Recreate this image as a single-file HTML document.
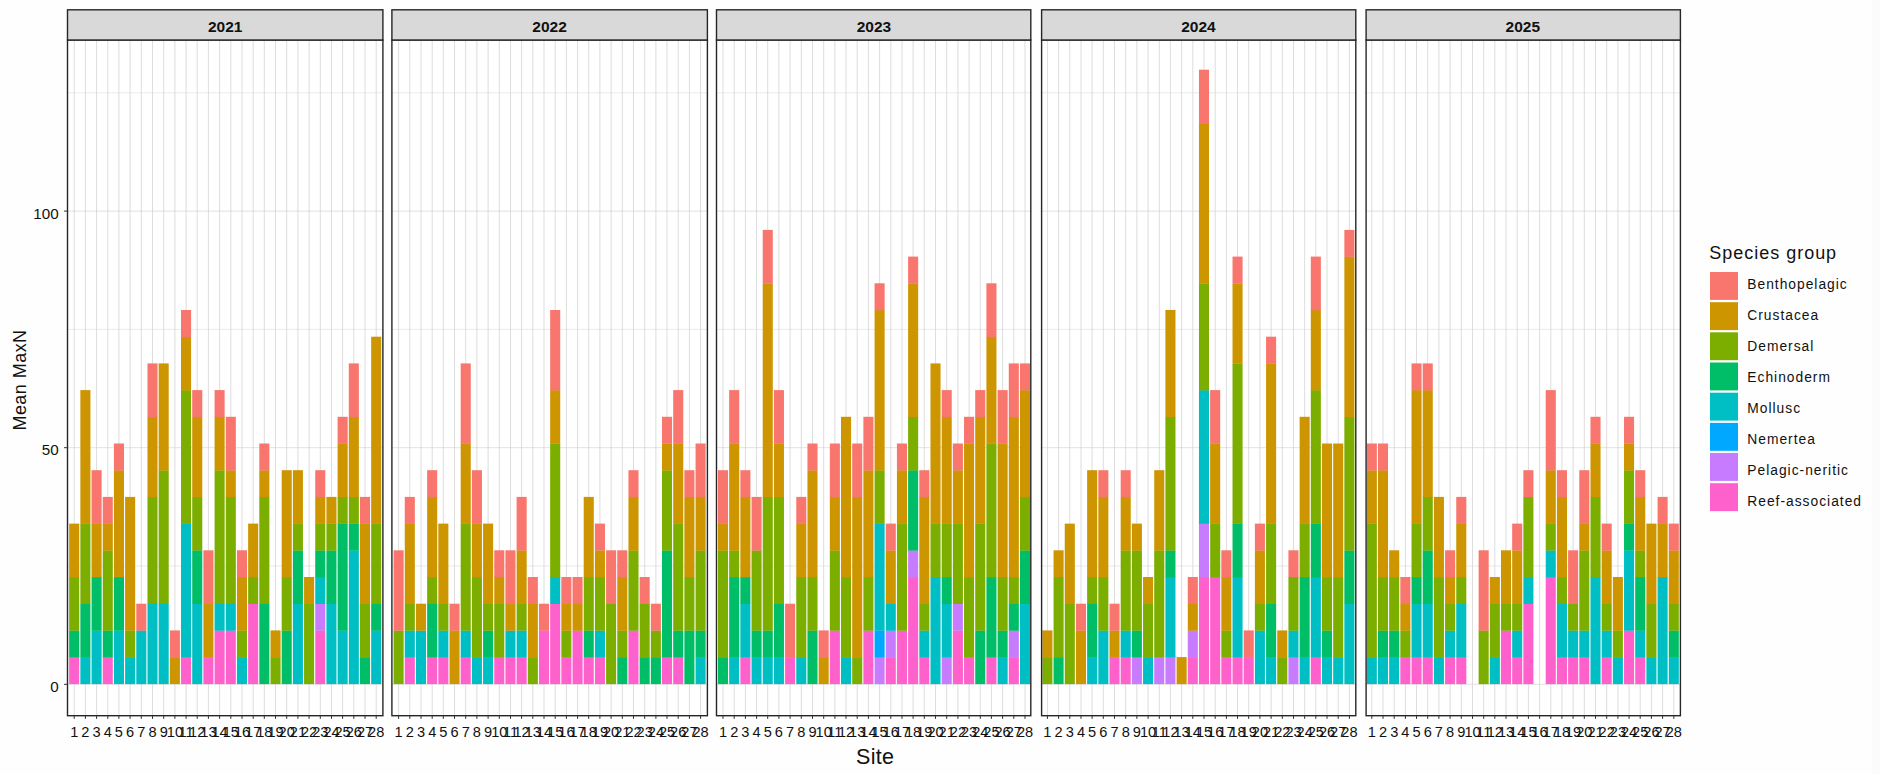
<!DOCTYPE html><html><head><meta charset="utf-8"><title>Mean MaxN by Site</title>
<style>html,body{margin:0;padding:0;background:#fefefe;}body{width:1880px;height:774px;overflow:hidden;font-family:"Liberation Sans",sans-serif;}svg{display:block}text{font-family:"Liberation Sans",sans-serif;fill:#111}</style></head><body>
<svg width="1880" height="774" viewBox="0 0 1880 774">
<rect x="0" y="0" width="1880" height="774" fill="#fefefe"/>
<rect x="1872" y="0" width="8" height="774" fill="#fcfbfc"/>
<g>
<rect x="67.5" y="40.0" width="315.4" height="675.7" fill="#ffffff"/>
<line x1="67.5" x2="382.9" y1="566.0" y2="566.0" stroke="#dadada" stroke-width="0.6"/>
<line x1="67.5" x2="382.9" y1="329.4" y2="329.4" stroke="#dadada" stroke-width="0.6"/>
<line x1="67.5" x2="382.9" y1="92.8" y2="92.8" stroke="#dadada" stroke-width="0.6"/>
<line x1="67.5" x2="382.9" y1="684.3" y2="684.3" stroke="#dadada" stroke-width="0.8"/>
<line x1="67.5" x2="382.9" y1="447.7" y2="447.7" stroke="#dadada" stroke-width="0.8"/>
<line x1="67.5" x2="382.9" y1="211.1" y2="211.1" stroke="#dadada" stroke-width="0.8"/>
<line x1="74.2" x2="74.2" y1="40.0" y2="715.7" stroke="#d2d2d2" stroke-width="0.75"/>
<line x1="85.4" x2="85.4" y1="40.0" y2="715.7" stroke="#d2d2d2" stroke-width="0.75"/>
<line x1="96.6" x2="96.6" y1="40.0" y2="715.7" stroke="#d2d2d2" stroke-width="0.75"/>
<line x1="107.8" x2="107.8" y1="40.0" y2="715.7" stroke="#d2d2d2" stroke-width="0.75"/>
<line x1="118.9" x2="118.9" y1="40.0" y2="715.7" stroke="#d2d2d2" stroke-width="0.75"/>
<line x1="130.1" x2="130.1" y1="40.0" y2="715.7" stroke="#d2d2d2" stroke-width="0.75"/>
<line x1="141.3" x2="141.3" y1="40.0" y2="715.7" stroke="#d2d2d2" stroke-width="0.75"/>
<line x1="152.5" x2="152.5" y1="40.0" y2="715.7" stroke="#d2d2d2" stroke-width="0.75"/>
<line x1="163.7" x2="163.7" y1="40.0" y2="715.7" stroke="#d2d2d2" stroke-width="0.75"/>
<line x1="174.9" x2="174.9" y1="40.0" y2="715.7" stroke="#d2d2d2" stroke-width="0.75"/>
<line x1="186.1" x2="186.1" y1="40.0" y2="715.7" stroke="#d2d2d2" stroke-width="0.75"/>
<line x1="197.2" x2="197.2" y1="40.0" y2="715.7" stroke="#d2d2d2" stroke-width="0.75"/>
<line x1="208.4" x2="208.4" y1="40.0" y2="715.7" stroke="#d2d2d2" stroke-width="0.75"/>
<line x1="219.6" x2="219.6" y1="40.0" y2="715.7" stroke="#d2d2d2" stroke-width="0.75"/>
<line x1="230.8" x2="230.8" y1="40.0" y2="715.7" stroke="#d2d2d2" stroke-width="0.75"/>
<line x1="242.0" x2="242.0" y1="40.0" y2="715.7" stroke="#d2d2d2" stroke-width="0.75"/>
<line x1="253.2" x2="253.2" y1="40.0" y2="715.7" stroke="#d2d2d2" stroke-width="0.75"/>
<line x1="264.3" x2="264.3" y1="40.0" y2="715.7" stroke="#d2d2d2" stroke-width="0.75"/>
<line x1="275.5" x2="275.5" y1="40.0" y2="715.7" stroke="#d2d2d2" stroke-width="0.75"/>
<line x1="286.7" x2="286.7" y1="40.0" y2="715.7" stroke="#d2d2d2" stroke-width="0.75"/>
<line x1="297.9" x2="297.9" y1="40.0" y2="715.7" stroke="#d2d2d2" stroke-width="0.75"/>
<line x1="309.1" x2="309.1" y1="40.0" y2="715.7" stroke="#d2d2d2" stroke-width="0.75"/>
<line x1="320.3" x2="320.3" y1="40.0" y2="715.7" stroke="#d2d2d2" stroke-width="0.75"/>
<line x1="331.5" x2="331.5" y1="40.0" y2="715.7" stroke="#d2d2d2" stroke-width="0.75"/>
<line x1="342.6" x2="342.6" y1="40.0" y2="715.7" stroke="#d2d2d2" stroke-width="0.75"/>
<line x1="353.8" x2="353.8" y1="40.0" y2="715.7" stroke="#d2d2d2" stroke-width="0.75"/>
<line x1="365.0" x2="365.0" y1="40.0" y2="715.7" stroke="#d2d2d2" stroke-width="0.75"/>
<line x1="376.2" x2="376.2" y1="40.0" y2="715.7" stroke="#d2d2d2" stroke-width="0.75"/>
<rect x="69.18" y="657.10" width="10.07" height="27.00" fill="#FF61CC"/>
<rect x="69.18" y="630.40" width="10.07" height="27.00" fill="#00BE67"/>
<rect x="69.18" y="577.00" width="10.07" height="53.70" fill="#7CAE00"/>
<rect x="69.18" y="523.60" width="10.07" height="53.70" fill="#CD9600"/>
<rect x="80.36" y="657.10" width="10.07" height="27.00" fill="#00BFC4"/>
<rect x="80.36" y="603.70" width="10.07" height="53.70" fill="#00BE67"/>
<rect x="80.36" y="523.60" width="10.07" height="80.40" fill="#7CAE00"/>
<rect x="80.36" y="390.10" width="10.07" height="133.80" fill="#CD9600"/>
<rect x="91.55" y="630.40" width="10.07" height="53.70" fill="#00BFC4"/>
<rect x="91.55" y="577.00" width="10.07" height="53.70" fill="#00BE67"/>
<rect x="91.55" y="523.60" width="10.07" height="53.70" fill="#CD9600"/>
<rect x="91.55" y="470.20" width="10.07" height="53.70" fill="#F8766D"/>
<rect x="102.73" y="657.10" width="10.07" height="27.00" fill="#FF61CC"/>
<rect x="102.73" y="630.40" width="10.07" height="27.00" fill="#00BE67"/>
<rect x="102.73" y="550.30" width="10.07" height="80.40" fill="#7CAE00"/>
<rect x="102.73" y="523.60" width="10.07" height="27.00" fill="#CD9600"/>
<rect x="102.73" y="496.90" width="10.07" height="27.00" fill="#F8766D"/>
<rect x="113.92" y="630.40" width="10.07" height="53.70" fill="#00BFC4"/>
<rect x="113.92" y="577.00" width="10.07" height="53.70" fill="#00BE67"/>
<rect x="113.92" y="470.20" width="10.07" height="107.10" fill="#CD9600"/>
<rect x="113.92" y="443.50" width="10.07" height="27.00" fill="#F8766D"/>
<rect x="125.10" y="657.10" width="10.07" height="27.00" fill="#00BFC4"/>
<rect x="125.10" y="630.40" width="10.07" height="27.00" fill="#7CAE00"/>
<rect x="125.10" y="496.90" width="10.07" height="133.80" fill="#CD9600"/>
<rect x="136.28" y="630.40" width="10.07" height="53.70" fill="#00BFC4"/>
<rect x="136.28" y="603.70" width="10.07" height="27.00" fill="#F8766D"/>
<rect x="147.47" y="603.70" width="10.07" height="80.40" fill="#00BFC4"/>
<rect x="147.47" y="496.90" width="10.07" height="107.10" fill="#7CAE00"/>
<rect x="147.47" y="416.80" width="10.07" height="80.40" fill="#CD9600"/>
<rect x="147.47" y="363.40" width="10.07" height="53.70" fill="#F8766D"/>
<rect x="158.65" y="603.70" width="10.07" height="80.40" fill="#00BFC4"/>
<rect x="158.65" y="470.20" width="10.07" height="133.80" fill="#7CAE00"/>
<rect x="158.65" y="363.40" width="10.07" height="107.10" fill="#CD9600"/>
<rect x="169.84" y="657.10" width="10.07" height="27.00" fill="#CD9600"/>
<rect x="169.84" y="630.40" width="10.07" height="27.00" fill="#F8766D"/>
<rect x="181.02" y="657.10" width="10.07" height="27.00" fill="#FF61CC"/>
<rect x="181.02" y="523.60" width="10.07" height="133.80" fill="#00BFC4"/>
<rect x="181.02" y="390.10" width="10.07" height="133.80" fill="#7CAE00"/>
<rect x="181.02" y="336.70" width="10.07" height="53.70" fill="#CD9600"/>
<rect x="181.02" y="310.00" width="10.07" height="27.00" fill="#F8766D"/>
<rect x="192.21" y="603.70" width="10.07" height="80.40" fill="#00BFC4"/>
<rect x="192.21" y="550.30" width="10.07" height="53.70" fill="#00BE67"/>
<rect x="192.21" y="496.90" width="10.07" height="53.70" fill="#7CAE00"/>
<rect x="192.21" y="416.80" width="10.07" height="80.40" fill="#CD9600"/>
<rect x="192.21" y="390.10" width="10.07" height="27.00" fill="#F8766D"/>
<rect x="203.39" y="657.10" width="10.07" height="27.00" fill="#FF61CC"/>
<rect x="203.39" y="603.70" width="10.07" height="53.70" fill="#CD9600"/>
<rect x="203.39" y="550.30" width="10.07" height="53.70" fill="#F8766D"/>
<rect x="214.57" y="630.40" width="10.07" height="53.70" fill="#FF61CC"/>
<rect x="214.57" y="603.70" width="10.07" height="27.00" fill="#00BFC4"/>
<rect x="214.57" y="470.20" width="10.07" height="133.80" fill="#7CAE00"/>
<rect x="214.57" y="416.80" width="10.07" height="53.70" fill="#CD9600"/>
<rect x="214.57" y="390.10" width="10.07" height="27.00" fill="#F8766D"/>
<rect x="225.76" y="630.40" width="10.07" height="53.70" fill="#FF61CC"/>
<rect x="225.76" y="603.70" width="10.07" height="27.00" fill="#00BFC4"/>
<rect x="225.76" y="496.90" width="10.07" height="107.10" fill="#7CAE00"/>
<rect x="225.76" y="470.20" width="10.07" height="27.00" fill="#CD9600"/>
<rect x="225.76" y="416.80" width="10.07" height="53.70" fill="#F8766D"/>
<rect x="236.94" y="657.10" width="10.07" height="27.00" fill="#00BFC4"/>
<rect x="236.94" y="630.40" width="10.07" height="27.00" fill="#7CAE00"/>
<rect x="236.94" y="577.00" width="10.07" height="53.70" fill="#CD9600"/>
<rect x="236.94" y="550.30" width="10.07" height="27.00" fill="#F8766D"/>
<rect x="248.13" y="603.70" width="10.07" height="80.40" fill="#FF61CC"/>
<rect x="248.13" y="577.00" width="10.07" height="27.00" fill="#7CAE00"/>
<rect x="248.13" y="523.60" width="10.07" height="53.70" fill="#CD9600"/>
<rect x="259.31" y="603.70" width="10.07" height="80.40" fill="#00BE67"/>
<rect x="259.31" y="496.90" width="10.07" height="107.10" fill="#7CAE00"/>
<rect x="259.31" y="470.20" width="10.07" height="27.00" fill="#CD9600"/>
<rect x="259.31" y="443.50" width="10.07" height="27.00" fill="#F8766D"/>
<rect x="270.50" y="657.10" width="10.07" height="27.00" fill="#7CAE00"/>
<rect x="270.50" y="630.40" width="10.07" height="27.00" fill="#CD9600"/>
<rect x="281.68" y="630.40" width="10.07" height="53.70" fill="#00BE67"/>
<rect x="281.68" y="577.00" width="10.07" height="53.70" fill="#7CAE00"/>
<rect x="281.68" y="470.20" width="10.07" height="107.10" fill="#CD9600"/>
<rect x="292.87" y="603.70" width="10.07" height="80.40" fill="#00BFC4"/>
<rect x="292.87" y="550.30" width="10.07" height="53.70" fill="#00BE67"/>
<rect x="292.87" y="523.60" width="10.07" height="27.00" fill="#7CAE00"/>
<rect x="292.87" y="470.20" width="10.07" height="53.70" fill="#CD9600"/>
<rect x="304.05" y="603.70" width="10.07" height="80.40" fill="#7CAE00"/>
<rect x="304.05" y="577.00" width="10.07" height="27.00" fill="#CD9600"/>
<rect x="315.23" y="630.40" width="10.07" height="53.70" fill="#FF61CC"/>
<rect x="315.23" y="603.70" width="10.07" height="27.00" fill="#C77CFF"/>
<rect x="315.23" y="577.00" width="10.07" height="27.00" fill="#00BFC4"/>
<rect x="315.23" y="550.30" width="10.07" height="27.00" fill="#00BE67"/>
<rect x="315.23" y="523.60" width="10.07" height="27.00" fill="#7CAE00"/>
<rect x="315.23" y="496.90" width="10.07" height="27.00" fill="#CD9600"/>
<rect x="315.23" y="470.20" width="10.07" height="27.00" fill="#F8766D"/>
<rect x="326.42" y="603.70" width="10.07" height="80.40" fill="#00BFC4"/>
<rect x="326.42" y="550.30" width="10.07" height="53.70" fill="#00BE67"/>
<rect x="326.42" y="523.60" width="10.07" height="27.00" fill="#7CAE00"/>
<rect x="326.42" y="496.90" width="10.07" height="27.00" fill="#CD9600"/>
<rect x="337.60" y="630.40" width="10.07" height="53.70" fill="#00BFC4"/>
<rect x="337.60" y="523.60" width="10.07" height="107.10" fill="#00BE67"/>
<rect x="337.60" y="496.90" width="10.07" height="27.00" fill="#7CAE00"/>
<rect x="337.60" y="443.50" width="10.07" height="53.70" fill="#CD9600"/>
<rect x="337.60" y="416.80" width="10.07" height="27.00" fill="#F8766D"/>
<rect x="348.79" y="550.30" width="10.07" height="133.80" fill="#00BFC4"/>
<rect x="348.79" y="523.60" width="10.07" height="27.00" fill="#00BE67"/>
<rect x="348.79" y="496.90" width="10.07" height="27.00" fill="#7CAE00"/>
<rect x="348.79" y="416.80" width="10.07" height="80.40" fill="#CD9600"/>
<rect x="348.79" y="363.40" width="10.07" height="53.70" fill="#F8766D"/>
<rect x="359.97" y="657.10" width="10.07" height="27.00" fill="#00BE67"/>
<rect x="359.97" y="603.70" width="10.07" height="53.70" fill="#7CAE00"/>
<rect x="359.97" y="523.60" width="10.07" height="80.40" fill="#CD9600"/>
<rect x="359.97" y="496.90" width="10.07" height="27.00" fill="#F8766D"/>
<rect x="371.16" y="630.40" width="10.07" height="53.70" fill="#00BFC4"/>
<rect x="371.16" y="603.70" width="10.07" height="27.00" fill="#00BE67"/>
<rect x="371.16" y="523.60" width="10.07" height="80.40" fill="#7CAE00"/>
<rect x="371.16" y="336.70" width="10.07" height="187.20" fill="#CD9600"/>
<rect x="67.5" y="40.0" width="315.4" height="675.7" fill="none" stroke="#262626" stroke-width="1.4"/>
<rect x="67.5" y="9.8" width="315.4" height="30.2" fill="#d9d9d9" stroke="#262626" stroke-width="1.4"/>
<text x="225.2" y="32.4" font-size="15.5" font-weight="bold" text-anchor="middle">2021</text>
<line x1="74.2" x2="74.2" y1="715.7" y2="718.9000000000001" stroke="#333" stroke-width="1"/>
<text x="74.2" y="736.8" font-size="14.6" text-anchor="middle" fill="#222">1</text>
<line x1="85.4" x2="85.4" y1="715.7" y2="718.9000000000001" stroke="#333" stroke-width="1"/>
<text x="85.4" y="736.8" font-size="14.6" text-anchor="middle" fill="#222">2</text>
<line x1="96.6" x2="96.6" y1="715.7" y2="718.9000000000001" stroke="#333" stroke-width="1"/>
<text x="96.6" y="736.8" font-size="14.6" text-anchor="middle" fill="#222">3</text>
<line x1="107.8" x2="107.8" y1="715.7" y2="718.9000000000001" stroke="#333" stroke-width="1"/>
<text x="107.8" y="736.8" font-size="14.6" text-anchor="middle" fill="#222">4</text>
<line x1="118.9" x2="118.9" y1="715.7" y2="718.9000000000001" stroke="#333" stroke-width="1"/>
<text x="118.9" y="736.8" font-size="14.6" text-anchor="middle" fill="#222">5</text>
<line x1="130.1" x2="130.1" y1="715.7" y2="718.9000000000001" stroke="#333" stroke-width="1"/>
<text x="130.1" y="736.8" font-size="14.6" text-anchor="middle" fill="#222">6</text>
<line x1="141.3" x2="141.3" y1="715.7" y2="718.9000000000001" stroke="#333" stroke-width="1"/>
<text x="141.3" y="736.8" font-size="14.6" text-anchor="middle" fill="#222">7</text>
<line x1="152.5" x2="152.5" y1="715.7" y2="718.9000000000001" stroke="#333" stroke-width="1"/>
<text x="152.5" y="736.8" font-size="14.6" text-anchor="middle" fill="#222">8</text>
<line x1="163.7" x2="163.7" y1="715.7" y2="718.9000000000001" stroke="#333" stroke-width="1"/>
<text x="163.7" y="736.8" font-size="14.6" text-anchor="middle" fill="#222">9</text>
<line x1="174.9" x2="174.9" y1="715.7" y2="718.9000000000001" stroke="#333" stroke-width="1"/>
<text x="174.9" y="736.8" font-size="14.6" text-anchor="middle" fill="#222">10</text>
<line x1="186.1" x2="186.1" y1="715.7" y2="718.9000000000001" stroke="#333" stroke-width="1"/>
<text x="186.1" y="736.8" font-size="14.6" text-anchor="middle" fill="#222">11</text>
<line x1="197.2" x2="197.2" y1="715.7" y2="718.9000000000001" stroke="#333" stroke-width="1"/>
<text x="197.2" y="736.8" font-size="14.6" text-anchor="middle" fill="#222">12</text>
<line x1="208.4" x2="208.4" y1="715.7" y2="718.9000000000001" stroke="#333" stroke-width="1"/>
<text x="208.4" y="736.8" font-size="14.6" text-anchor="middle" fill="#222">13</text>
<line x1="219.6" x2="219.6" y1="715.7" y2="718.9000000000001" stroke="#333" stroke-width="1"/>
<text x="219.6" y="736.8" font-size="14.6" text-anchor="middle" fill="#222">14</text>
<line x1="230.8" x2="230.8" y1="715.7" y2="718.9000000000001" stroke="#333" stroke-width="1"/>
<text x="230.8" y="736.8" font-size="14.6" text-anchor="middle" fill="#222">15</text>
<line x1="242.0" x2="242.0" y1="715.7" y2="718.9000000000001" stroke="#333" stroke-width="1"/>
<text x="242.0" y="736.8" font-size="14.6" text-anchor="middle" fill="#222">16</text>
<line x1="253.2" x2="253.2" y1="715.7" y2="718.9000000000001" stroke="#333" stroke-width="1"/>
<text x="253.2" y="736.8" font-size="14.6" text-anchor="middle" fill="#222">17</text>
<line x1="264.3" x2="264.3" y1="715.7" y2="718.9000000000001" stroke="#333" stroke-width="1"/>
<text x="264.3" y="736.8" font-size="14.6" text-anchor="middle" fill="#222">18</text>
<line x1="275.5" x2="275.5" y1="715.7" y2="718.9000000000001" stroke="#333" stroke-width="1"/>
<text x="275.5" y="736.8" font-size="14.6" text-anchor="middle" fill="#222">19</text>
<line x1="286.7" x2="286.7" y1="715.7" y2="718.9000000000001" stroke="#333" stroke-width="1"/>
<text x="286.7" y="736.8" font-size="14.6" text-anchor="middle" fill="#222">20</text>
<line x1="297.9" x2="297.9" y1="715.7" y2="718.9000000000001" stroke="#333" stroke-width="1"/>
<text x="297.9" y="736.8" font-size="14.6" text-anchor="middle" fill="#222">21</text>
<line x1="309.1" x2="309.1" y1="715.7" y2="718.9000000000001" stroke="#333" stroke-width="1"/>
<text x="309.1" y="736.8" font-size="14.6" text-anchor="middle" fill="#222">22</text>
<line x1="320.3" x2="320.3" y1="715.7" y2="718.9000000000001" stroke="#333" stroke-width="1"/>
<text x="320.3" y="736.8" font-size="14.6" text-anchor="middle" fill="#222">23</text>
<line x1="331.5" x2="331.5" y1="715.7" y2="718.9000000000001" stroke="#333" stroke-width="1"/>
<text x="331.5" y="736.8" font-size="14.6" text-anchor="middle" fill="#222">24</text>
<line x1="342.6" x2="342.6" y1="715.7" y2="718.9000000000001" stroke="#333" stroke-width="1"/>
<text x="342.6" y="736.8" font-size="14.6" text-anchor="middle" fill="#222">25</text>
<line x1="353.8" x2="353.8" y1="715.7" y2="718.9000000000001" stroke="#333" stroke-width="1"/>
<text x="353.8" y="736.8" font-size="14.6" text-anchor="middle" fill="#222">26</text>
<line x1="365.0" x2="365.0" y1="715.7" y2="718.9000000000001" stroke="#333" stroke-width="1"/>
<text x="365.0" y="736.8" font-size="14.6" text-anchor="middle" fill="#222">27</text>
<line x1="376.2" x2="376.2" y1="715.7" y2="718.9000000000001" stroke="#333" stroke-width="1"/>
<text x="376.2" y="736.8" font-size="14.6" text-anchor="middle" fill="#222">28</text>
</g>
<g>
<rect x="391.9" y="40.0" width="315.5" height="675.7" fill="#ffffff"/>
<line x1="391.9" x2="707.3" y1="566.0" y2="566.0" stroke="#dadada" stroke-width="0.6"/>
<line x1="391.9" x2="707.3" y1="329.4" y2="329.4" stroke="#dadada" stroke-width="0.6"/>
<line x1="391.9" x2="707.3" y1="92.8" y2="92.8" stroke="#dadada" stroke-width="0.6"/>
<line x1="391.9" x2="707.3" y1="684.3" y2="684.3" stroke="#dadada" stroke-width="0.8"/>
<line x1="391.9" x2="707.3" y1="447.7" y2="447.7" stroke="#dadada" stroke-width="0.8"/>
<line x1="391.9" x2="707.3" y1="211.1" y2="211.1" stroke="#dadada" stroke-width="0.8"/>
<line x1="398.6" x2="398.6" y1="40.0" y2="715.7" stroke="#d2d2d2" stroke-width="0.75"/>
<line x1="409.8" x2="409.8" y1="40.0" y2="715.7" stroke="#d2d2d2" stroke-width="0.75"/>
<line x1="421.0" x2="421.0" y1="40.0" y2="715.7" stroke="#d2d2d2" stroke-width="0.75"/>
<line x1="432.2" x2="432.2" y1="40.0" y2="715.7" stroke="#d2d2d2" stroke-width="0.75"/>
<line x1="443.3" x2="443.3" y1="40.0" y2="715.7" stroke="#d2d2d2" stroke-width="0.75"/>
<line x1="454.5" x2="454.5" y1="40.0" y2="715.7" stroke="#d2d2d2" stroke-width="0.75"/>
<line x1="465.7" x2="465.7" y1="40.0" y2="715.7" stroke="#d2d2d2" stroke-width="0.75"/>
<line x1="476.9" x2="476.9" y1="40.0" y2="715.7" stroke="#d2d2d2" stroke-width="0.75"/>
<line x1="488.1" x2="488.1" y1="40.0" y2="715.7" stroke="#d2d2d2" stroke-width="0.75"/>
<line x1="499.3" x2="499.3" y1="40.0" y2="715.7" stroke="#d2d2d2" stroke-width="0.75"/>
<line x1="510.5" x2="510.5" y1="40.0" y2="715.7" stroke="#d2d2d2" stroke-width="0.75"/>
<line x1="521.6" x2="521.6" y1="40.0" y2="715.7" stroke="#d2d2d2" stroke-width="0.75"/>
<line x1="532.8" x2="532.8" y1="40.0" y2="715.7" stroke="#d2d2d2" stroke-width="0.75"/>
<line x1="544.0" x2="544.0" y1="40.0" y2="715.7" stroke="#d2d2d2" stroke-width="0.75"/>
<line x1="555.2" x2="555.2" y1="40.0" y2="715.7" stroke="#d2d2d2" stroke-width="0.75"/>
<line x1="566.4" x2="566.4" y1="40.0" y2="715.7" stroke="#d2d2d2" stroke-width="0.75"/>
<line x1="577.6" x2="577.6" y1="40.0" y2="715.7" stroke="#d2d2d2" stroke-width="0.75"/>
<line x1="588.7" x2="588.7" y1="40.0" y2="715.7" stroke="#d2d2d2" stroke-width="0.75"/>
<line x1="599.9" x2="599.9" y1="40.0" y2="715.7" stroke="#d2d2d2" stroke-width="0.75"/>
<line x1="611.1" x2="611.1" y1="40.0" y2="715.7" stroke="#d2d2d2" stroke-width="0.75"/>
<line x1="622.3" x2="622.3" y1="40.0" y2="715.7" stroke="#d2d2d2" stroke-width="0.75"/>
<line x1="633.5" x2="633.5" y1="40.0" y2="715.7" stroke="#d2d2d2" stroke-width="0.75"/>
<line x1="644.7" x2="644.7" y1="40.0" y2="715.7" stroke="#d2d2d2" stroke-width="0.75"/>
<line x1="655.9" x2="655.9" y1="40.0" y2="715.7" stroke="#d2d2d2" stroke-width="0.75"/>
<line x1="667.0" x2="667.0" y1="40.0" y2="715.7" stroke="#d2d2d2" stroke-width="0.75"/>
<line x1="678.2" x2="678.2" y1="40.0" y2="715.7" stroke="#d2d2d2" stroke-width="0.75"/>
<line x1="689.4" x2="689.4" y1="40.0" y2="715.7" stroke="#d2d2d2" stroke-width="0.75"/>
<line x1="700.6" x2="700.6" y1="40.0" y2="715.7" stroke="#d2d2d2" stroke-width="0.75"/>
<rect x="393.58" y="630.40" width="10.07" height="53.70" fill="#7CAE00"/>
<rect x="393.58" y="550.30" width="10.07" height="80.40" fill="#F8766D"/>
<rect x="404.76" y="657.10" width="10.07" height="27.00" fill="#FF61CC"/>
<rect x="404.76" y="630.40" width="10.07" height="27.00" fill="#00BFC4"/>
<rect x="404.76" y="603.70" width="10.07" height="27.00" fill="#7CAE00"/>
<rect x="404.76" y="523.60" width="10.07" height="80.40" fill="#CD9600"/>
<rect x="404.76" y="496.90" width="10.07" height="27.00" fill="#F8766D"/>
<rect x="415.95" y="630.40" width="10.07" height="53.70" fill="#00BFC4"/>
<rect x="415.95" y="603.70" width="10.07" height="27.00" fill="#CD9600"/>
<rect x="427.13" y="657.10" width="10.07" height="27.00" fill="#FF61CC"/>
<rect x="427.13" y="603.70" width="10.07" height="53.70" fill="#00BE67"/>
<rect x="427.13" y="577.00" width="10.07" height="27.00" fill="#7CAE00"/>
<rect x="427.13" y="496.90" width="10.07" height="80.40" fill="#CD9600"/>
<rect x="427.13" y="470.20" width="10.07" height="27.00" fill="#F8766D"/>
<rect x="438.32" y="657.10" width="10.07" height="27.00" fill="#FF61CC"/>
<rect x="438.32" y="630.40" width="10.07" height="27.00" fill="#00BFC4"/>
<rect x="438.32" y="603.70" width="10.07" height="27.00" fill="#7CAE00"/>
<rect x="438.32" y="523.60" width="10.07" height="80.40" fill="#CD9600"/>
<rect x="449.50" y="630.40" width="10.07" height="53.70" fill="#CD9600"/>
<rect x="449.50" y="603.70" width="10.07" height="27.00" fill="#F8766D"/>
<rect x="460.68" y="657.10" width="10.07" height="27.00" fill="#FF61CC"/>
<rect x="460.68" y="630.40" width="10.07" height="27.00" fill="#00BFC4"/>
<rect x="460.68" y="523.60" width="10.07" height="107.10" fill="#7CAE00"/>
<rect x="460.68" y="443.50" width="10.07" height="80.40" fill="#CD9600"/>
<rect x="460.68" y="363.40" width="10.07" height="80.40" fill="#F8766D"/>
<rect x="471.87" y="657.10" width="10.07" height="27.00" fill="#00BFC4"/>
<rect x="471.87" y="577.00" width="10.07" height="80.40" fill="#7CAE00"/>
<rect x="471.87" y="523.60" width="10.07" height="53.70" fill="#CD9600"/>
<rect x="471.87" y="470.20" width="10.07" height="53.70" fill="#F8766D"/>
<rect x="483.05" y="657.10" width="10.07" height="27.00" fill="#00BFC4"/>
<rect x="483.05" y="630.40" width="10.07" height="27.00" fill="#00BE67"/>
<rect x="483.05" y="603.70" width="10.07" height="27.00" fill="#7CAE00"/>
<rect x="483.05" y="523.60" width="10.07" height="80.40" fill="#CD9600"/>
<rect x="494.24" y="657.10" width="10.07" height="27.00" fill="#FF61CC"/>
<rect x="494.24" y="603.70" width="10.07" height="53.70" fill="#7CAE00"/>
<rect x="494.24" y="577.00" width="10.07" height="27.00" fill="#CD9600"/>
<rect x="494.24" y="550.30" width="10.07" height="27.00" fill="#F8766D"/>
<rect x="505.42" y="657.10" width="10.07" height="27.00" fill="#FF61CC"/>
<rect x="505.42" y="630.40" width="10.07" height="27.00" fill="#00BFC4"/>
<rect x="505.42" y="603.70" width="10.07" height="27.00" fill="#CD9600"/>
<rect x="505.42" y="550.30" width="10.07" height="53.70" fill="#F8766D"/>
<rect x="516.61" y="657.10" width="10.07" height="27.00" fill="#FF61CC"/>
<rect x="516.61" y="630.40" width="10.07" height="27.00" fill="#00BFC4"/>
<rect x="516.61" y="603.70" width="10.07" height="27.00" fill="#7CAE00"/>
<rect x="516.61" y="550.30" width="10.07" height="53.70" fill="#CD9600"/>
<rect x="516.61" y="496.90" width="10.07" height="53.70" fill="#F8766D"/>
<rect x="527.79" y="657.10" width="10.07" height="27.00" fill="#7CAE00"/>
<rect x="527.79" y="603.70" width="10.07" height="53.70" fill="#CD9600"/>
<rect x="527.79" y="577.00" width="10.07" height="27.00" fill="#F8766D"/>
<rect x="538.97" y="630.40" width="10.07" height="53.70" fill="#FF61CC"/>
<rect x="538.97" y="603.70" width="10.07" height="27.00" fill="#F8766D"/>
<rect x="550.16" y="603.70" width="10.07" height="80.40" fill="#FF61CC"/>
<rect x="550.16" y="577.00" width="10.07" height="27.00" fill="#00BFC4"/>
<rect x="550.16" y="443.50" width="10.07" height="133.80" fill="#7CAE00"/>
<rect x="550.16" y="390.10" width="10.07" height="53.70" fill="#CD9600"/>
<rect x="550.16" y="310.00" width="10.07" height="80.40" fill="#F8766D"/>
<rect x="561.34" y="657.10" width="10.07" height="27.00" fill="#FF61CC"/>
<rect x="561.34" y="630.40" width="10.07" height="27.00" fill="#7CAE00"/>
<rect x="561.34" y="603.70" width="10.07" height="27.00" fill="#CD9600"/>
<rect x="561.34" y="577.00" width="10.07" height="27.00" fill="#F8766D"/>
<rect x="572.53" y="630.40" width="10.07" height="53.70" fill="#FF61CC"/>
<rect x="572.53" y="603.70" width="10.07" height="27.00" fill="#CD9600"/>
<rect x="572.53" y="577.00" width="10.07" height="27.00" fill="#F8766D"/>
<rect x="583.71" y="657.10" width="10.07" height="27.00" fill="#FF61CC"/>
<rect x="583.71" y="630.40" width="10.07" height="27.00" fill="#00BE67"/>
<rect x="583.71" y="577.00" width="10.07" height="53.70" fill="#7CAE00"/>
<rect x="583.71" y="496.90" width="10.07" height="80.40" fill="#CD9600"/>
<rect x="594.90" y="657.10" width="10.07" height="27.00" fill="#FF61CC"/>
<rect x="594.90" y="630.40" width="10.07" height="27.00" fill="#00BFC4"/>
<rect x="594.90" y="577.00" width="10.07" height="53.70" fill="#7CAE00"/>
<rect x="594.90" y="550.30" width="10.07" height="27.00" fill="#CD9600"/>
<rect x="594.90" y="523.60" width="10.07" height="27.00" fill="#F8766D"/>
<rect x="606.08" y="603.70" width="10.07" height="80.40" fill="#7CAE00"/>
<rect x="606.08" y="550.30" width="10.07" height="53.70" fill="#F8766D"/>
<rect x="617.27" y="657.10" width="10.07" height="27.00" fill="#00BE67"/>
<rect x="617.27" y="630.40" width="10.07" height="27.00" fill="#7CAE00"/>
<rect x="617.27" y="577.00" width="10.07" height="53.70" fill="#CD9600"/>
<rect x="617.27" y="550.30" width="10.07" height="27.00" fill="#F8766D"/>
<rect x="628.45" y="630.40" width="10.07" height="53.70" fill="#FF61CC"/>
<rect x="628.45" y="550.30" width="10.07" height="80.40" fill="#7CAE00"/>
<rect x="628.45" y="496.90" width="10.07" height="53.70" fill="#CD9600"/>
<rect x="628.45" y="470.20" width="10.07" height="27.00" fill="#F8766D"/>
<rect x="639.63" y="657.10" width="10.07" height="27.00" fill="#00BE67"/>
<rect x="639.63" y="603.70" width="10.07" height="53.70" fill="#7CAE00"/>
<rect x="639.63" y="577.00" width="10.07" height="27.00" fill="#F8766D"/>
<rect x="650.82" y="657.10" width="10.07" height="27.00" fill="#00BE67"/>
<rect x="650.82" y="630.40" width="10.07" height="27.00" fill="#7CAE00"/>
<rect x="650.82" y="603.70" width="10.07" height="27.00" fill="#F8766D"/>
<rect x="662.00" y="657.10" width="10.07" height="27.00" fill="#FF61CC"/>
<rect x="662.00" y="550.30" width="10.07" height="107.10" fill="#00BE67"/>
<rect x="662.00" y="470.20" width="10.07" height="80.40" fill="#7CAE00"/>
<rect x="662.00" y="443.50" width="10.07" height="27.00" fill="#CD9600"/>
<rect x="662.00" y="416.80" width="10.07" height="27.00" fill="#F8766D"/>
<rect x="673.19" y="657.10" width="10.07" height="27.00" fill="#FF61CC"/>
<rect x="673.19" y="630.40" width="10.07" height="27.00" fill="#00BE67"/>
<rect x="673.19" y="523.60" width="10.07" height="107.10" fill="#7CAE00"/>
<rect x="673.19" y="443.50" width="10.07" height="80.40" fill="#CD9600"/>
<rect x="673.19" y="390.10" width="10.07" height="53.70" fill="#F8766D"/>
<rect x="684.37" y="630.40" width="10.07" height="53.70" fill="#00BE67"/>
<rect x="684.37" y="577.00" width="10.07" height="53.70" fill="#7CAE00"/>
<rect x="684.37" y="496.90" width="10.07" height="80.40" fill="#CD9600"/>
<rect x="684.37" y="470.20" width="10.07" height="27.00" fill="#F8766D"/>
<rect x="695.56" y="657.10" width="10.07" height="27.00" fill="#00BFC4"/>
<rect x="695.56" y="630.40" width="10.07" height="27.00" fill="#00BE67"/>
<rect x="695.56" y="550.30" width="10.07" height="80.40" fill="#7CAE00"/>
<rect x="695.56" y="496.90" width="10.07" height="53.70" fill="#CD9600"/>
<rect x="695.56" y="443.50" width="10.07" height="53.70" fill="#F8766D"/>
<rect x="391.9" y="40.0" width="315.5" height="675.7" fill="none" stroke="#262626" stroke-width="1.4"/>
<rect x="391.9" y="9.8" width="315.5" height="30.2" fill="#d9d9d9" stroke="#262626" stroke-width="1.4"/>
<text x="549.6" y="32.4" font-size="15.5" font-weight="bold" text-anchor="middle">2022</text>
<line x1="398.6" x2="398.6" y1="715.7" y2="718.9000000000001" stroke="#333" stroke-width="1"/>
<text x="398.6" y="736.8" font-size="14.6" text-anchor="middle" fill="#222">1</text>
<line x1="409.8" x2="409.8" y1="715.7" y2="718.9000000000001" stroke="#333" stroke-width="1"/>
<text x="409.8" y="736.8" font-size="14.6" text-anchor="middle" fill="#222">2</text>
<line x1="421.0" x2="421.0" y1="715.7" y2="718.9000000000001" stroke="#333" stroke-width="1"/>
<text x="421.0" y="736.8" font-size="14.6" text-anchor="middle" fill="#222">3</text>
<line x1="432.2" x2="432.2" y1="715.7" y2="718.9000000000001" stroke="#333" stroke-width="1"/>
<text x="432.2" y="736.8" font-size="14.6" text-anchor="middle" fill="#222">4</text>
<line x1="443.3" x2="443.3" y1="715.7" y2="718.9000000000001" stroke="#333" stroke-width="1"/>
<text x="443.3" y="736.8" font-size="14.6" text-anchor="middle" fill="#222">5</text>
<line x1="454.5" x2="454.5" y1="715.7" y2="718.9000000000001" stroke="#333" stroke-width="1"/>
<text x="454.5" y="736.8" font-size="14.6" text-anchor="middle" fill="#222">6</text>
<line x1="465.7" x2="465.7" y1="715.7" y2="718.9000000000001" stroke="#333" stroke-width="1"/>
<text x="465.7" y="736.8" font-size="14.6" text-anchor="middle" fill="#222">7</text>
<line x1="476.9" x2="476.9" y1="715.7" y2="718.9000000000001" stroke="#333" stroke-width="1"/>
<text x="476.9" y="736.8" font-size="14.6" text-anchor="middle" fill="#222">8</text>
<line x1="488.1" x2="488.1" y1="715.7" y2="718.9000000000001" stroke="#333" stroke-width="1"/>
<text x="488.1" y="736.8" font-size="14.6" text-anchor="middle" fill="#222">9</text>
<line x1="499.3" x2="499.3" y1="715.7" y2="718.9000000000001" stroke="#333" stroke-width="1"/>
<text x="499.3" y="736.8" font-size="14.6" text-anchor="middle" fill="#222">10</text>
<line x1="510.5" x2="510.5" y1="715.7" y2="718.9000000000001" stroke="#333" stroke-width="1"/>
<text x="510.5" y="736.8" font-size="14.6" text-anchor="middle" fill="#222">11</text>
<line x1="521.6" x2="521.6" y1="715.7" y2="718.9000000000001" stroke="#333" stroke-width="1"/>
<text x="521.6" y="736.8" font-size="14.6" text-anchor="middle" fill="#222">12</text>
<line x1="532.8" x2="532.8" y1="715.7" y2="718.9000000000001" stroke="#333" stroke-width="1"/>
<text x="532.8" y="736.8" font-size="14.6" text-anchor="middle" fill="#222">13</text>
<line x1="544.0" x2="544.0" y1="715.7" y2="718.9000000000001" stroke="#333" stroke-width="1"/>
<text x="544.0" y="736.8" font-size="14.6" text-anchor="middle" fill="#222">14</text>
<line x1="555.2" x2="555.2" y1="715.7" y2="718.9000000000001" stroke="#333" stroke-width="1"/>
<text x="555.2" y="736.8" font-size="14.6" text-anchor="middle" fill="#222">15</text>
<line x1="566.4" x2="566.4" y1="715.7" y2="718.9000000000001" stroke="#333" stroke-width="1"/>
<text x="566.4" y="736.8" font-size="14.6" text-anchor="middle" fill="#222">16</text>
<line x1="577.6" x2="577.6" y1="715.7" y2="718.9000000000001" stroke="#333" stroke-width="1"/>
<text x="577.6" y="736.8" font-size="14.6" text-anchor="middle" fill="#222">17</text>
<line x1="588.7" x2="588.7" y1="715.7" y2="718.9000000000001" stroke="#333" stroke-width="1"/>
<text x="588.7" y="736.8" font-size="14.6" text-anchor="middle" fill="#222">18</text>
<line x1="599.9" x2="599.9" y1="715.7" y2="718.9000000000001" stroke="#333" stroke-width="1"/>
<text x="599.9" y="736.8" font-size="14.6" text-anchor="middle" fill="#222">19</text>
<line x1="611.1" x2="611.1" y1="715.7" y2="718.9000000000001" stroke="#333" stroke-width="1"/>
<text x="611.1" y="736.8" font-size="14.6" text-anchor="middle" fill="#222">20</text>
<line x1="622.3" x2="622.3" y1="715.7" y2="718.9000000000001" stroke="#333" stroke-width="1"/>
<text x="622.3" y="736.8" font-size="14.6" text-anchor="middle" fill="#222">21</text>
<line x1="633.5" x2="633.5" y1="715.7" y2="718.9000000000001" stroke="#333" stroke-width="1"/>
<text x="633.5" y="736.8" font-size="14.6" text-anchor="middle" fill="#222">22</text>
<line x1="644.7" x2="644.7" y1="715.7" y2="718.9000000000001" stroke="#333" stroke-width="1"/>
<text x="644.7" y="736.8" font-size="14.6" text-anchor="middle" fill="#222">23</text>
<line x1="655.9" x2="655.9" y1="715.7" y2="718.9000000000001" stroke="#333" stroke-width="1"/>
<text x="655.9" y="736.8" font-size="14.6" text-anchor="middle" fill="#222">24</text>
<line x1="667.0" x2="667.0" y1="715.7" y2="718.9000000000001" stroke="#333" stroke-width="1"/>
<text x="667.0" y="736.8" font-size="14.6" text-anchor="middle" fill="#222">25</text>
<line x1="678.2" x2="678.2" y1="715.7" y2="718.9000000000001" stroke="#333" stroke-width="1"/>
<text x="678.2" y="736.8" font-size="14.6" text-anchor="middle" fill="#222">26</text>
<line x1="689.4" x2="689.4" y1="715.7" y2="718.9000000000001" stroke="#333" stroke-width="1"/>
<text x="689.4" y="736.8" font-size="14.6" text-anchor="middle" fill="#222">27</text>
<line x1="700.6" x2="700.6" y1="715.7" y2="718.9000000000001" stroke="#333" stroke-width="1"/>
<text x="700.6" y="736.8" font-size="14.6" text-anchor="middle" fill="#222">28</text>
</g>
<g>
<rect x="716.5" y="40.0" width="314.3" height="675.7" fill="#ffffff"/>
<line x1="716.3" x2="1031.7" y1="566.0" y2="566.0" stroke="#dadada" stroke-width="0.6"/>
<line x1="716.3" x2="1031.7" y1="329.4" y2="329.4" stroke="#dadada" stroke-width="0.6"/>
<line x1="716.3" x2="1031.7" y1="92.8" y2="92.8" stroke="#dadada" stroke-width="0.6"/>
<line x1="716.3" x2="1031.7" y1="684.3" y2="684.3" stroke="#dadada" stroke-width="0.8"/>
<line x1="716.3" x2="1031.7" y1="447.7" y2="447.7" stroke="#dadada" stroke-width="0.8"/>
<line x1="716.3" x2="1031.7" y1="211.1" y2="211.1" stroke="#dadada" stroke-width="0.8"/>
<line x1="723.0" x2="723.0" y1="40.0" y2="715.7" stroke="#d2d2d2" stroke-width="0.75"/>
<line x1="734.2" x2="734.2" y1="40.0" y2="715.7" stroke="#d2d2d2" stroke-width="0.75"/>
<line x1="745.4" x2="745.4" y1="40.0" y2="715.7" stroke="#d2d2d2" stroke-width="0.75"/>
<line x1="756.6" x2="756.6" y1="40.0" y2="715.7" stroke="#d2d2d2" stroke-width="0.75"/>
<line x1="767.7" x2="767.7" y1="40.0" y2="715.7" stroke="#d2d2d2" stroke-width="0.75"/>
<line x1="778.9" x2="778.9" y1="40.0" y2="715.7" stroke="#d2d2d2" stroke-width="0.75"/>
<line x1="790.1" x2="790.1" y1="40.0" y2="715.7" stroke="#d2d2d2" stroke-width="0.75"/>
<line x1="801.3" x2="801.3" y1="40.0" y2="715.7" stroke="#d2d2d2" stroke-width="0.75"/>
<line x1="812.5" x2="812.5" y1="40.0" y2="715.7" stroke="#d2d2d2" stroke-width="0.75"/>
<line x1="823.7" x2="823.7" y1="40.0" y2="715.7" stroke="#d2d2d2" stroke-width="0.75"/>
<line x1="834.9" x2="834.9" y1="40.0" y2="715.7" stroke="#d2d2d2" stroke-width="0.75"/>
<line x1="846.0" x2="846.0" y1="40.0" y2="715.7" stroke="#d2d2d2" stroke-width="0.75"/>
<line x1="857.2" x2="857.2" y1="40.0" y2="715.7" stroke="#d2d2d2" stroke-width="0.75"/>
<line x1="868.4" x2="868.4" y1="40.0" y2="715.7" stroke="#d2d2d2" stroke-width="0.75"/>
<line x1="879.6" x2="879.6" y1="40.0" y2="715.7" stroke="#d2d2d2" stroke-width="0.75"/>
<line x1="890.8" x2="890.8" y1="40.0" y2="715.7" stroke="#d2d2d2" stroke-width="0.75"/>
<line x1="902.0" x2="902.0" y1="40.0" y2="715.7" stroke="#d2d2d2" stroke-width="0.75"/>
<line x1="913.1" x2="913.1" y1="40.0" y2="715.7" stroke="#d2d2d2" stroke-width="0.75"/>
<line x1="924.3" x2="924.3" y1="40.0" y2="715.7" stroke="#d2d2d2" stroke-width="0.75"/>
<line x1="935.5" x2="935.5" y1="40.0" y2="715.7" stroke="#d2d2d2" stroke-width="0.75"/>
<line x1="946.7" x2="946.7" y1="40.0" y2="715.7" stroke="#d2d2d2" stroke-width="0.75"/>
<line x1="957.9" x2="957.9" y1="40.0" y2="715.7" stroke="#d2d2d2" stroke-width="0.75"/>
<line x1="969.1" x2="969.1" y1="40.0" y2="715.7" stroke="#d2d2d2" stroke-width="0.75"/>
<line x1="980.3" x2="980.3" y1="40.0" y2="715.7" stroke="#d2d2d2" stroke-width="0.75"/>
<line x1="991.4" x2="991.4" y1="40.0" y2="715.7" stroke="#d2d2d2" stroke-width="0.75"/>
<line x1="1002.6" x2="1002.6" y1="40.0" y2="715.7" stroke="#d2d2d2" stroke-width="0.75"/>
<line x1="1013.8" x2="1013.8" y1="40.0" y2="715.7" stroke="#d2d2d2" stroke-width="0.75"/>
<line x1="1025.0" x2="1025.0" y1="40.0" y2="715.7" stroke="#d2d2d2" stroke-width="0.75"/>
<rect x="717.98" y="657.10" width="10.07" height="27.00" fill="#00BE67"/>
<rect x="717.98" y="550.30" width="10.07" height="107.10" fill="#7CAE00"/>
<rect x="717.98" y="523.60" width="10.07" height="27.00" fill="#CD9600"/>
<rect x="717.98" y="470.20" width="10.07" height="53.70" fill="#F8766D"/>
<rect x="729.16" y="657.10" width="10.07" height="27.00" fill="#00BFC4"/>
<rect x="729.16" y="577.00" width="10.07" height="80.40" fill="#00BE67"/>
<rect x="729.16" y="550.30" width="10.07" height="27.00" fill="#7CAE00"/>
<rect x="729.16" y="443.50" width="10.07" height="107.10" fill="#CD9600"/>
<rect x="729.16" y="390.10" width="10.07" height="53.70" fill="#F8766D"/>
<rect x="740.35" y="657.10" width="10.07" height="27.00" fill="#FF61CC"/>
<rect x="740.35" y="603.70" width="10.07" height="53.70" fill="#00BFC4"/>
<rect x="740.35" y="577.00" width="10.07" height="27.00" fill="#00BE67"/>
<rect x="740.35" y="496.90" width="10.07" height="80.40" fill="#CD9600"/>
<rect x="740.35" y="470.20" width="10.07" height="27.00" fill="#F8766D"/>
<rect x="751.53" y="657.10" width="10.07" height="27.00" fill="#00BFC4"/>
<rect x="751.53" y="630.40" width="10.07" height="27.00" fill="#00BE67"/>
<rect x="751.53" y="550.30" width="10.07" height="80.40" fill="#7CAE00"/>
<rect x="751.53" y="496.90" width="10.07" height="53.70" fill="#F8766D"/>
<rect x="762.72" y="657.10" width="10.07" height="27.00" fill="#00BFC4"/>
<rect x="762.72" y="630.40" width="10.07" height="27.00" fill="#00BE67"/>
<rect x="762.72" y="496.90" width="10.07" height="133.80" fill="#7CAE00"/>
<rect x="762.72" y="283.30" width="10.07" height="213.90" fill="#CD9600"/>
<rect x="762.72" y="229.90" width="10.07" height="53.70" fill="#F8766D"/>
<rect x="773.90" y="657.10" width="10.07" height="27.00" fill="#00BFC4"/>
<rect x="773.90" y="603.70" width="10.07" height="53.70" fill="#00BE67"/>
<rect x="773.90" y="496.90" width="10.07" height="107.10" fill="#7CAE00"/>
<rect x="773.90" y="443.50" width="10.07" height="53.70" fill="#CD9600"/>
<rect x="773.90" y="390.10" width="10.07" height="53.70" fill="#F8766D"/>
<rect x="785.08" y="657.10" width="10.07" height="27.00" fill="#FF61CC"/>
<rect x="785.08" y="603.70" width="10.07" height="53.70" fill="#F8766D"/>
<rect x="796.27" y="657.10" width="10.07" height="27.00" fill="#00BFC4"/>
<rect x="796.27" y="577.00" width="10.07" height="80.40" fill="#7CAE00"/>
<rect x="796.27" y="523.60" width="10.07" height="53.70" fill="#CD9600"/>
<rect x="796.27" y="496.90" width="10.07" height="27.00" fill="#F8766D"/>
<rect x="807.45" y="630.40" width="10.07" height="53.70" fill="#00BE67"/>
<rect x="807.45" y="577.00" width="10.07" height="53.70" fill="#7CAE00"/>
<rect x="807.45" y="470.20" width="10.07" height="107.10" fill="#CD9600"/>
<rect x="807.45" y="443.50" width="10.07" height="27.00" fill="#F8766D"/>
<rect x="818.64" y="657.10" width="10.07" height="27.00" fill="#CD9600"/>
<rect x="818.64" y="630.40" width="10.07" height="27.00" fill="#F8766D"/>
<rect x="829.82" y="630.40" width="10.07" height="53.70" fill="#FF61CC"/>
<rect x="829.82" y="550.30" width="10.07" height="80.40" fill="#7CAE00"/>
<rect x="829.82" y="496.90" width="10.07" height="53.70" fill="#CD9600"/>
<rect x="829.82" y="443.50" width="10.07" height="53.70" fill="#F8766D"/>
<rect x="841.01" y="657.10" width="10.07" height="27.00" fill="#00BFC4"/>
<rect x="841.01" y="577.00" width="10.07" height="80.40" fill="#7CAE00"/>
<rect x="841.01" y="416.80" width="10.07" height="160.50" fill="#CD9600"/>
<rect x="852.19" y="657.10" width="10.07" height="27.00" fill="#7CAE00"/>
<rect x="852.19" y="496.90" width="10.07" height="160.50" fill="#CD9600"/>
<rect x="852.19" y="443.50" width="10.07" height="53.70" fill="#F8766D"/>
<rect x="863.37" y="630.40" width="10.07" height="53.70" fill="#FF61CC"/>
<rect x="863.37" y="577.00" width="10.07" height="53.70" fill="#7CAE00"/>
<rect x="863.37" y="470.20" width="10.07" height="107.10" fill="#CD9600"/>
<rect x="863.37" y="416.80" width="10.07" height="53.70" fill="#F8766D"/>
<rect x="874.56" y="657.10" width="10.07" height="27.00" fill="#C77CFF"/>
<rect x="874.56" y="630.40" width="10.07" height="27.00" fill="#00A9FF"/>
<rect x="874.56" y="523.60" width="10.07" height="107.10" fill="#00BFC4"/>
<rect x="874.56" y="470.20" width="10.07" height="53.70" fill="#7CAE00"/>
<rect x="874.56" y="310.00" width="10.07" height="160.50" fill="#CD9600"/>
<rect x="874.56" y="283.30" width="10.07" height="27.00" fill="#F8766D"/>
<rect x="885.74" y="657.10" width="10.07" height="27.00" fill="#FF61CC"/>
<rect x="885.74" y="630.40" width="10.07" height="27.00" fill="#C77CFF"/>
<rect x="885.74" y="603.70" width="10.07" height="27.00" fill="#00BFC4"/>
<rect x="885.74" y="550.30" width="10.07" height="53.70" fill="#CD9600"/>
<rect x="885.74" y="523.60" width="10.07" height="27.00" fill="#F8766D"/>
<rect x="896.93" y="630.40" width="10.07" height="53.70" fill="#FF61CC"/>
<rect x="896.93" y="523.60" width="10.07" height="107.10" fill="#7CAE00"/>
<rect x="896.93" y="470.20" width="10.07" height="53.70" fill="#CD9600"/>
<rect x="896.93" y="443.50" width="10.07" height="27.00" fill="#F8766D"/>
<rect x="908.11" y="577.00" width="10.07" height="107.10" fill="#FF61CC"/>
<rect x="908.11" y="550.30" width="10.07" height="27.00" fill="#C77CFF"/>
<rect x="908.11" y="470.20" width="10.07" height="80.40" fill="#00BE67"/>
<rect x="908.11" y="416.80" width="10.07" height="53.70" fill="#7CAE00"/>
<rect x="908.11" y="283.30" width="10.07" height="133.80" fill="#CD9600"/>
<rect x="908.11" y="256.60" width="10.07" height="27.00" fill="#F8766D"/>
<rect x="919.30" y="657.10" width="10.07" height="27.00" fill="#FF61CC"/>
<rect x="919.30" y="630.40" width="10.07" height="27.00" fill="#00BFC4"/>
<rect x="919.30" y="603.70" width="10.07" height="27.00" fill="#7CAE00"/>
<rect x="919.30" y="496.90" width="10.07" height="107.10" fill="#CD9600"/>
<rect x="919.30" y="470.20" width="10.07" height="27.00" fill="#F8766D"/>
<rect x="930.48" y="577.00" width="10.07" height="107.10" fill="#00BFC4"/>
<rect x="930.48" y="523.60" width="10.07" height="53.70" fill="#7CAE00"/>
<rect x="930.48" y="363.40" width="10.07" height="160.50" fill="#CD9600"/>
<rect x="941.67" y="657.10" width="10.07" height="27.00" fill="#C77CFF"/>
<rect x="941.67" y="603.70" width="10.07" height="53.70" fill="#00BFC4"/>
<rect x="941.67" y="577.00" width="10.07" height="27.00" fill="#00BE67"/>
<rect x="941.67" y="523.60" width="10.07" height="53.70" fill="#7CAE00"/>
<rect x="941.67" y="416.80" width="10.07" height="107.10" fill="#CD9600"/>
<rect x="941.67" y="390.10" width="10.07" height="27.00" fill="#F8766D"/>
<rect x="952.85" y="630.40" width="10.07" height="53.70" fill="#FF61CC"/>
<rect x="952.85" y="603.70" width="10.07" height="27.00" fill="#C77CFF"/>
<rect x="952.85" y="523.60" width="10.07" height="80.40" fill="#7CAE00"/>
<rect x="952.85" y="470.20" width="10.07" height="53.70" fill="#CD9600"/>
<rect x="952.85" y="443.50" width="10.07" height="27.00" fill="#F8766D"/>
<rect x="964.03" y="657.10" width="10.07" height="27.00" fill="#FF61CC"/>
<rect x="964.03" y="577.00" width="10.07" height="80.40" fill="#7CAE00"/>
<rect x="964.03" y="443.50" width="10.07" height="133.80" fill="#CD9600"/>
<rect x="964.03" y="416.80" width="10.07" height="27.00" fill="#F8766D"/>
<rect x="975.22" y="630.40" width="10.07" height="53.70" fill="#00BE67"/>
<rect x="975.22" y="523.60" width="10.07" height="107.10" fill="#7CAE00"/>
<rect x="975.22" y="416.80" width="10.07" height="107.10" fill="#CD9600"/>
<rect x="975.22" y="390.10" width="10.07" height="27.00" fill="#F8766D"/>
<rect x="986.40" y="657.10" width="10.07" height="27.00" fill="#FF61CC"/>
<rect x="986.40" y="577.00" width="10.07" height="80.40" fill="#00BE67"/>
<rect x="986.40" y="443.50" width="10.07" height="133.80" fill="#7CAE00"/>
<rect x="986.40" y="336.70" width="10.07" height="107.10" fill="#CD9600"/>
<rect x="986.40" y="283.30" width="10.07" height="53.70" fill="#F8766D"/>
<rect x="997.59" y="657.10" width="10.07" height="27.00" fill="#00BFC4"/>
<rect x="997.59" y="630.40" width="10.07" height="27.00" fill="#00BE67"/>
<rect x="997.59" y="577.00" width="10.07" height="53.70" fill="#7CAE00"/>
<rect x="997.59" y="443.50" width="10.07" height="133.80" fill="#CD9600"/>
<rect x="997.59" y="390.10" width="10.07" height="53.70" fill="#F8766D"/>
<rect x="1008.77" y="657.10" width="10.07" height="27.00" fill="#FF61CC"/>
<rect x="1008.77" y="630.40" width="10.07" height="27.00" fill="#C77CFF"/>
<rect x="1008.77" y="603.70" width="10.07" height="27.00" fill="#00BE67"/>
<rect x="1008.77" y="577.00" width="10.07" height="27.00" fill="#7CAE00"/>
<rect x="1008.77" y="416.80" width="10.07" height="160.50" fill="#CD9600"/>
<rect x="1008.77" y="363.40" width="10.07" height="53.70" fill="#F8766D"/>
<rect x="1019.96" y="603.70" width="10.07" height="80.40" fill="#00BFC4"/>
<rect x="1019.96" y="550.30" width="10.07" height="53.70" fill="#00BE67"/>
<rect x="1019.96" y="496.90" width="10.07" height="53.70" fill="#7CAE00"/>
<rect x="1019.96" y="390.10" width="10.07" height="107.10" fill="#CD9600"/>
<rect x="1019.96" y="363.40" width="10.07" height="27.00" fill="#F8766D"/>
<rect x="716.5" y="40.0" width="314.3" height="675.7" fill="none" stroke="#262626" stroke-width="1.4"/>
<rect x="716.5" y="9.8" width="314.3" height="30.2" fill="#d9d9d9" stroke="#262626" stroke-width="1.4"/>
<text x="874.0" y="32.4" font-size="15.5" font-weight="bold" text-anchor="middle">2023</text>
<line x1="723.0" x2="723.0" y1="715.7" y2="718.9000000000001" stroke="#333" stroke-width="1"/>
<text x="723.0" y="736.8" font-size="14.6" text-anchor="middle" fill="#222">1</text>
<line x1="734.2" x2="734.2" y1="715.7" y2="718.9000000000001" stroke="#333" stroke-width="1"/>
<text x="734.2" y="736.8" font-size="14.6" text-anchor="middle" fill="#222">2</text>
<line x1="745.4" x2="745.4" y1="715.7" y2="718.9000000000001" stroke="#333" stroke-width="1"/>
<text x="745.4" y="736.8" font-size="14.6" text-anchor="middle" fill="#222">3</text>
<line x1="756.6" x2="756.6" y1="715.7" y2="718.9000000000001" stroke="#333" stroke-width="1"/>
<text x="756.6" y="736.8" font-size="14.6" text-anchor="middle" fill="#222">4</text>
<line x1="767.7" x2="767.7" y1="715.7" y2="718.9000000000001" stroke="#333" stroke-width="1"/>
<text x="767.7" y="736.8" font-size="14.6" text-anchor="middle" fill="#222">5</text>
<line x1="778.9" x2="778.9" y1="715.7" y2="718.9000000000001" stroke="#333" stroke-width="1"/>
<text x="778.9" y="736.8" font-size="14.6" text-anchor="middle" fill="#222">6</text>
<line x1="790.1" x2="790.1" y1="715.7" y2="718.9000000000001" stroke="#333" stroke-width="1"/>
<text x="790.1" y="736.8" font-size="14.6" text-anchor="middle" fill="#222">7</text>
<line x1="801.3" x2="801.3" y1="715.7" y2="718.9000000000001" stroke="#333" stroke-width="1"/>
<text x="801.3" y="736.8" font-size="14.6" text-anchor="middle" fill="#222">8</text>
<line x1="812.5" x2="812.5" y1="715.7" y2="718.9000000000001" stroke="#333" stroke-width="1"/>
<text x="812.5" y="736.8" font-size="14.6" text-anchor="middle" fill="#222">9</text>
<line x1="823.7" x2="823.7" y1="715.7" y2="718.9000000000001" stroke="#333" stroke-width="1"/>
<text x="823.7" y="736.8" font-size="14.6" text-anchor="middle" fill="#222">10</text>
<line x1="834.9" x2="834.9" y1="715.7" y2="718.9000000000001" stroke="#333" stroke-width="1"/>
<text x="834.9" y="736.8" font-size="14.6" text-anchor="middle" fill="#222">11</text>
<line x1="846.0" x2="846.0" y1="715.7" y2="718.9000000000001" stroke="#333" stroke-width="1"/>
<text x="846.0" y="736.8" font-size="14.6" text-anchor="middle" fill="#222">12</text>
<line x1="857.2" x2="857.2" y1="715.7" y2="718.9000000000001" stroke="#333" stroke-width="1"/>
<text x="857.2" y="736.8" font-size="14.6" text-anchor="middle" fill="#222">13</text>
<line x1="868.4" x2="868.4" y1="715.7" y2="718.9000000000001" stroke="#333" stroke-width="1"/>
<text x="868.4" y="736.8" font-size="14.6" text-anchor="middle" fill="#222">14</text>
<line x1="879.6" x2="879.6" y1="715.7" y2="718.9000000000001" stroke="#333" stroke-width="1"/>
<text x="879.6" y="736.8" font-size="14.6" text-anchor="middle" fill="#222">15</text>
<line x1="890.8" x2="890.8" y1="715.7" y2="718.9000000000001" stroke="#333" stroke-width="1"/>
<text x="890.8" y="736.8" font-size="14.6" text-anchor="middle" fill="#222">16</text>
<line x1="902.0" x2="902.0" y1="715.7" y2="718.9000000000001" stroke="#333" stroke-width="1"/>
<text x="902.0" y="736.8" font-size="14.6" text-anchor="middle" fill="#222">17</text>
<line x1="913.1" x2="913.1" y1="715.7" y2="718.9000000000001" stroke="#333" stroke-width="1"/>
<text x="913.1" y="736.8" font-size="14.6" text-anchor="middle" fill="#222">18</text>
<line x1="924.3" x2="924.3" y1="715.7" y2="718.9000000000001" stroke="#333" stroke-width="1"/>
<text x="924.3" y="736.8" font-size="14.6" text-anchor="middle" fill="#222">19</text>
<line x1="935.5" x2="935.5" y1="715.7" y2="718.9000000000001" stroke="#333" stroke-width="1"/>
<text x="935.5" y="736.8" font-size="14.6" text-anchor="middle" fill="#222">20</text>
<line x1="946.7" x2="946.7" y1="715.7" y2="718.9000000000001" stroke="#333" stroke-width="1"/>
<text x="946.7" y="736.8" font-size="14.6" text-anchor="middle" fill="#222">21</text>
<line x1="957.9" x2="957.9" y1="715.7" y2="718.9000000000001" stroke="#333" stroke-width="1"/>
<text x="957.9" y="736.8" font-size="14.6" text-anchor="middle" fill="#222">22</text>
<line x1="969.1" x2="969.1" y1="715.7" y2="718.9000000000001" stroke="#333" stroke-width="1"/>
<text x="969.1" y="736.8" font-size="14.6" text-anchor="middle" fill="#222">23</text>
<line x1="980.3" x2="980.3" y1="715.7" y2="718.9000000000001" stroke="#333" stroke-width="1"/>
<text x="980.3" y="736.8" font-size="14.6" text-anchor="middle" fill="#222">24</text>
<line x1="991.4" x2="991.4" y1="715.7" y2="718.9000000000001" stroke="#333" stroke-width="1"/>
<text x="991.4" y="736.8" font-size="14.6" text-anchor="middle" fill="#222">25</text>
<line x1="1002.6" x2="1002.6" y1="715.7" y2="718.9000000000001" stroke="#333" stroke-width="1"/>
<text x="1002.6" y="736.8" font-size="14.6" text-anchor="middle" fill="#222">26</text>
<line x1="1013.8" x2="1013.8" y1="715.7" y2="718.9000000000001" stroke="#333" stroke-width="1"/>
<text x="1013.8" y="736.8" font-size="14.6" text-anchor="middle" fill="#222">27</text>
<line x1="1025.0" x2="1025.0" y1="715.7" y2="718.9000000000001" stroke="#333" stroke-width="1"/>
<text x="1025.0" y="736.8" font-size="14.6" text-anchor="middle" fill="#222">28</text>
</g>
<g>
<rect x="1041.6" y="40.0" width="314.2" height="675.7" fill="#ffffff"/>
<line x1="1040.7" x2="1356.1" y1="566.0" y2="566.0" stroke="#dadada" stroke-width="0.6"/>
<line x1="1040.7" x2="1356.1" y1="329.4" y2="329.4" stroke="#dadada" stroke-width="0.6"/>
<line x1="1040.7" x2="1356.1" y1="92.8" y2="92.8" stroke="#dadada" stroke-width="0.6"/>
<line x1="1040.7" x2="1356.1" y1="684.3" y2="684.3" stroke="#dadada" stroke-width="0.8"/>
<line x1="1040.7" x2="1356.1" y1="447.7" y2="447.7" stroke="#dadada" stroke-width="0.8"/>
<line x1="1040.7" x2="1356.1" y1="211.1" y2="211.1" stroke="#dadada" stroke-width="0.8"/>
<line x1="1047.4" x2="1047.4" y1="40.0" y2="715.7" stroke="#d2d2d2" stroke-width="0.75"/>
<line x1="1058.6" x2="1058.6" y1="40.0" y2="715.7" stroke="#d2d2d2" stroke-width="0.75"/>
<line x1="1069.8" x2="1069.8" y1="40.0" y2="715.7" stroke="#d2d2d2" stroke-width="0.75"/>
<line x1="1081.0" x2="1081.0" y1="40.0" y2="715.7" stroke="#d2d2d2" stroke-width="0.75"/>
<line x1="1092.1" x2="1092.1" y1="40.0" y2="715.7" stroke="#d2d2d2" stroke-width="0.75"/>
<line x1="1103.3" x2="1103.3" y1="40.0" y2="715.7" stroke="#d2d2d2" stroke-width="0.75"/>
<line x1="1114.5" x2="1114.5" y1="40.0" y2="715.7" stroke="#d2d2d2" stroke-width="0.75"/>
<line x1="1125.7" x2="1125.7" y1="40.0" y2="715.7" stroke="#d2d2d2" stroke-width="0.75"/>
<line x1="1136.9" x2="1136.9" y1="40.0" y2="715.7" stroke="#d2d2d2" stroke-width="0.75"/>
<line x1="1148.1" x2="1148.1" y1="40.0" y2="715.7" stroke="#d2d2d2" stroke-width="0.75"/>
<line x1="1159.3" x2="1159.3" y1="40.0" y2="715.7" stroke="#d2d2d2" stroke-width="0.75"/>
<line x1="1170.4" x2="1170.4" y1="40.0" y2="715.7" stroke="#d2d2d2" stroke-width="0.75"/>
<line x1="1181.6" x2="1181.6" y1="40.0" y2="715.7" stroke="#d2d2d2" stroke-width="0.75"/>
<line x1="1192.8" x2="1192.8" y1="40.0" y2="715.7" stroke="#d2d2d2" stroke-width="0.75"/>
<line x1="1204.0" x2="1204.0" y1="40.0" y2="715.7" stroke="#d2d2d2" stroke-width="0.75"/>
<line x1="1215.2" x2="1215.2" y1="40.0" y2="715.7" stroke="#d2d2d2" stroke-width="0.75"/>
<line x1="1226.4" x2="1226.4" y1="40.0" y2="715.7" stroke="#d2d2d2" stroke-width="0.75"/>
<line x1="1237.5" x2="1237.5" y1="40.0" y2="715.7" stroke="#d2d2d2" stroke-width="0.75"/>
<line x1="1248.7" x2="1248.7" y1="40.0" y2="715.7" stroke="#d2d2d2" stroke-width="0.75"/>
<line x1="1259.9" x2="1259.9" y1="40.0" y2="715.7" stroke="#d2d2d2" stroke-width="0.75"/>
<line x1="1271.1" x2="1271.1" y1="40.0" y2="715.7" stroke="#d2d2d2" stroke-width="0.75"/>
<line x1="1282.3" x2="1282.3" y1="40.0" y2="715.7" stroke="#d2d2d2" stroke-width="0.75"/>
<line x1="1293.5" x2="1293.5" y1="40.0" y2="715.7" stroke="#d2d2d2" stroke-width="0.75"/>
<line x1="1304.7" x2="1304.7" y1="40.0" y2="715.7" stroke="#d2d2d2" stroke-width="0.75"/>
<line x1="1315.8" x2="1315.8" y1="40.0" y2="715.7" stroke="#d2d2d2" stroke-width="0.75"/>
<line x1="1327.0" x2="1327.0" y1="40.0" y2="715.7" stroke="#d2d2d2" stroke-width="0.75"/>
<line x1="1338.2" x2="1338.2" y1="40.0" y2="715.7" stroke="#d2d2d2" stroke-width="0.75"/>
<line x1="1349.4" x2="1349.4" y1="40.0" y2="715.7" stroke="#d2d2d2" stroke-width="0.75"/>
<rect x="1042.38" y="657.10" width="10.07" height="27.00" fill="#7CAE00"/>
<rect x="1042.38" y="630.40" width="10.07" height="27.00" fill="#CD9600"/>
<rect x="1053.56" y="657.10" width="10.07" height="27.00" fill="#00BE67"/>
<rect x="1053.56" y="577.00" width="10.07" height="80.40" fill="#7CAE00"/>
<rect x="1053.56" y="550.30" width="10.07" height="27.00" fill="#CD9600"/>
<rect x="1064.75" y="603.70" width="10.07" height="80.40" fill="#7CAE00"/>
<rect x="1064.75" y="523.60" width="10.07" height="80.40" fill="#CD9600"/>
<rect x="1075.93" y="630.40" width="10.07" height="53.70" fill="#CD9600"/>
<rect x="1075.93" y="603.70" width="10.07" height="27.00" fill="#F8766D"/>
<rect x="1087.12" y="657.10" width="10.07" height="27.00" fill="#00BFC4"/>
<rect x="1087.12" y="603.70" width="10.07" height="53.70" fill="#00BE67"/>
<rect x="1087.12" y="577.00" width="10.07" height="27.00" fill="#7CAE00"/>
<rect x="1087.12" y="470.20" width="10.07" height="107.10" fill="#CD9600"/>
<rect x="1098.30" y="630.40" width="10.07" height="53.70" fill="#00BFC4"/>
<rect x="1098.30" y="577.00" width="10.07" height="53.70" fill="#7CAE00"/>
<rect x="1098.30" y="496.90" width="10.07" height="80.40" fill="#CD9600"/>
<rect x="1098.30" y="470.20" width="10.07" height="27.00" fill="#F8766D"/>
<rect x="1109.48" y="657.10" width="10.07" height="27.00" fill="#FF61CC"/>
<rect x="1109.48" y="630.40" width="10.07" height="27.00" fill="#CD9600"/>
<rect x="1109.48" y="603.70" width="10.07" height="27.00" fill="#F8766D"/>
<rect x="1120.67" y="657.10" width="10.07" height="27.00" fill="#FF61CC"/>
<rect x="1120.67" y="630.40" width="10.07" height="27.00" fill="#00BFC4"/>
<rect x="1120.67" y="550.30" width="10.07" height="80.40" fill="#7CAE00"/>
<rect x="1120.67" y="496.90" width="10.07" height="53.70" fill="#CD9600"/>
<rect x="1120.67" y="470.20" width="10.07" height="27.00" fill="#F8766D"/>
<rect x="1131.85" y="657.10" width="10.07" height="27.00" fill="#C77CFF"/>
<rect x="1131.85" y="630.40" width="10.07" height="27.00" fill="#00BE67"/>
<rect x="1131.85" y="550.30" width="10.07" height="80.40" fill="#7CAE00"/>
<rect x="1131.85" y="523.60" width="10.07" height="27.00" fill="#CD9600"/>
<rect x="1143.04" y="657.10" width="10.07" height="27.00" fill="#00BFC4"/>
<rect x="1143.04" y="603.70" width="10.07" height="53.70" fill="#7CAE00"/>
<rect x="1143.04" y="577.00" width="10.07" height="27.00" fill="#CD9600"/>
<rect x="1154.22" y="657.10" width="10.07" height="27.00" fill="#C77CFF"/>
<rect x="1154.22" y="550.30" width="10.07" height="107.10" fill="#7CAE00"/>
<rect x="1154.22" y="470.20" width="10.07" height="80.40" fill="#CD9600"/>
<rect x="1165.41" y="657.10" width="10.07" height="27.00" fill="#C77CFF"/>
<rect x="1165.41" y="577.00" width="10.07" height="80.40" fill="#00BFC4"/>
<rect x="1165.41" y="550.30" width="10.07" height="27.00" fill="#00BE67"/>
<rect x="1165.41" y="416.80" width="10.07" height="133.80" fill="#7CAE00"/>
<rect x="1165.41" y="310.00" width="10.07" height="107.10" fill="#CD9600"/>
<rect x="1176.59" y="657.10" width="10.07" height="27.00" fill="#CD9600"/>
<rect x="1187.77" y="657.10" width="10.07" height="27.00" fill="#FF61CC"/>
<rect x="1187.77" y="630.40" width="10.07" height="27.00" fill="#C77CFF"/>
<rect x="1187.77" y="603.70" width="10.07" height="27.00" fill="#CD9600"/>
<rect x="1187.77" y="577.00" width="10.07" height="27.00" fill="#F8766D"/>
<rect x="1198.96" y="577.00" width="10.07" height="107.10" fill="#FF61CC"/>
<rect x="1198.96" y="523.60" width="10.07" height="53.70" fill="#C77CFF"/>
<rect x="1198.96" y="390.10" width="10.07" height="133.80" fill="#00BFC4"/>
<rect x="1198.96" y="283.30" width="10.07" height="107.10" fill="#7CAE00"/>
<rect x="1198.96" y="123.10" width="10.07" height="160.50" fill="#CD9600"/>
<rect x="1198.96" y="69.70" width="10.07" height="53.70" fill="#F8766D"/>
<rect x="1210.14" y="577.00" width="10.07" height="107.10" fill="#FF61CC"/>
<rect x="1210.14" y="523.60" width="10.07" height="53.70" fill="#7CAE00"/>
<rect x="1210.14" y="443.50" width="10.07" height="80.40" fill="#CD9600"/>
<rect x="1210.14" y="390.10" width="10.07" height="53.70" fill="#F8766D"/>
<rect x="1221.33" y="657.10" width="10.07" height="27.00" fill="#FF61CC"/>
<rect x="1221.33" y="630.40" width="10.07" height="27.00" fill="#7CAE00"/>
<rect x="1221.33" y="577.00" width="10.07" height="53.70" fill="#CD9600"/>
<rect x="1221.33" y="550.30" width="10.07" height="27.00" fill="#F8766D"/>
<rect x="1232.51" y="657.10" width="10.07" height="27.00" fill="#FF61CC"/>
<rect x="1232.51" y="577.00" width="10.07" height="80.40" fill="#00BFC4"/>
<rect x="1232.51" y="523.60" width="10.07" height="53.70" fill="#00BE67"/>
<rect x="1232.51" y="363.40" width="10.07" height="160.50" fill="#7CAE00"/>
<rect x="1232.51" y="283.30" width="10.07" height="80.40" fill="#CD9600"/>
<rect x="1232.51" y="256.60" width="10.07" height="27.00" fill="#F8766D"/>
<rect x="1243.70" y="657.10" width="10.07" height="27.00" fill="#FF61CC"/>
<rect x="1243.70" y="630.40" width="10.07" height="27.00" fill="#F8766D"/>
<rect x="1254.88" y="630.40" width="10.07" height="53.70" fill="#00BFC4"/>
<rect x="1254.88" y="603.70" width="10.07" height="27.00" fill="#7CAE00"/>
<rect x="1254.88" y="550.30" width="10.07" height="53.70" fill="#CD9600"/>
<rect x="1254.88" y="523.60" width="10.07" height="27.00" fill="#F8766D"/>
<rect x="1266.07" y="657.10" width="10.07" height="27.00" fill="#00BFC4"/>
<rect x="1266.07" y="603.70" width="10.07" height="53.70" fill="#00BE67"/>
<rect x="1266.07" y="523.60" width="10.07" height="80.40" fill="#7CAE00"/>
<rect x="1266.07" y="363.40" width="10.07" height="160.50" fill="#CD9600"/>
<rect x="1266.07" y="336.70" width="10.07" height="27.00" fill="#F8766D"/>
<rect x="1277.25" y="657.10" width="10.07" height="27.00" fill="#7CAE00"/>
<rect x="1277.25" y="630.40" width="10.07" height="27.00" fill="#CD9600"/>
<rect x="1288.43" y="657.10" width="10.07" height="27.00" fill="#C77CFF"/>
<rect x="1288.43" y="630.40" width="10.07" height="27.00" fill="#00BFC4"/>
<rect x="1288.43" y="577.00" width="10.07" height="53.70" fill="#7CAE00"/>
<rect x="1288.43" y="550.30" width="10.07" height="27.00" fill="#F8766D"/>
<rect x="1299.62" y="657.10" width="10.07" height="27.00" fill="#00BFC4"/>
<rect x="1299.62" y="577.00" width="10.07" height="80.40" fill="#00BE67"/>
<rect x="1299.62" y="523.60" width="10.07" height="53.70" fill="#7CAE00"/>
<rect x="1299.62" y="416.80" width="10.07" height="107.10" fill="#CD9600"/>
<rect x="1310.80" y="657.10" width="10.07" height="27.00" fill="#FF61CC"/>
<rect x="1310.80" y="577.00" width="10.07" height="80.40" fill="#00BFC4"/>
<rect x="1310.80" y="523.60" width="10.07" height="53.70" fill="#00BE67"/>
<rect x="1310.80" y="390.10" width="10.07" height="133.80" fill="#7CAE00"/>
<rect x="1310.80" y="310.00" width="10.07" height="80.40" fill="#CD9600"/>
<rect x="1310.80" y="256.60" width="10.07" height="53.70" fill="#F8766D"/>
<rect x="1321.99" y="657.10" width="10.07" height="27.00" fill="#00BFC4"/>
<rect x="1321.99" y="630.40" width="10.07" height="27.00" fill="#00BE67"/>
<rect x="1321.99" y="577.00" width="10.07" height="53.70" fill="#7CAE00"/>
<rect x="1321.99" y="443.50" width="10.07" height="133.80" fill="#CD9600"/>
<rect x="1333.17" y="657.10" width="10.07" height="27.00" fill="#00BFC4"/>
<rect x="1333.17" y="577.00" width="10.07" height="80.40" fill="#7CAE00"/>
<rect x="1333.17" y="443.50" width="10.07" height="133.80" fill="#CD9600"/>
<rect x="1344.36" y="603.70" width="10.07" height="80.40" fill="#00BFC4"/>
<rect x="1344.36" y="550.30" width="10.07" height="53.70" fill="#00BE67"/>
<rect x="1344.36" y="416.80" width="10.07" height="133.80" fill="#7CAE00"/>
<rect x="1344.36" y="256.60" width="10.07" height="160.50" fill="#CD9600"/>
<rect x="1344.36" y="229.90" width="10.07" height="27.00" fill="#F8766D"/>
<rect x="1041.6" y="40.0" width="314.2" height="675.7" fill="none" stroke="#262626" stroke-width="1.4"/>
<rect x="1041.6" y="9.8" width="314.2" height="30.2" fill="#d9d9d9" stroke="#262626" stroke-width="1.4"/>
<text x="1198.4" y="32.4" font-size="15.5" font-weight="bold" text-anchor="middle">2024</text>
<line x1="1047.4" x2="1047.4" y1="715.7" y2="718.9000000000001" stroke="#333" stroke-width="1"/>
<text x="1047.4" y="736.8" font-size="14.6" text-anchor="middle" fill="#222">1</text>
<line x1="1058.6" x2="1058.6" y1="715.7" y2="718.9000000000001" stroke="#333" stroke-width="1"/>
<text x="1058.6" y="736.8" font-size="14.6" text-anchor="middle" fill="#222">2</text>
<line x1="1069.8" x2="1069.8" y1="715.7" y2="718.9000000000001" stroke="#333" stroke-width="1"/>
<text x="1069.8" y="736.8" font-size="14.6" text-anchor="middle" fill="#222">3</text>
<line x1="1081.0" x2="1081.0" y1="715.7" y2="718.9000000000001" stroke="#333" stroke-width="1"/>
<text x="1081.0" y="736.8" font-size="14.6" text-anchor="middle" fill="#222">4</text>
<line x1="1092.1" x2="1092.1" y1="715.7" y2="718.9000000000001" stroke="#333" stroke-width="1"/>
<text x="1092.1" y="736.8" font-size="14.6" text-anchor="middle" fill="#222">5</text>
<line x1="1103.3" x2="1103.3" y1="715.7" y2="718.9000000000001" stroke="#333" stroke-width="1"/>
<text x="1103.3" y="736.8" font-size="14.6" text-anchor="middle" fill="#222">6</text>
<line x1="1114.5" x2="1114.5" y1="715.7" y2="718.9000000000001" stroke="#333" stroke-width="1"/>
<text x="1114.5" y="736.8" font-size="14.6" text-anchor="middle" fill="#222">7</text>
<line x1="1125.7" x2="1125.7" y1="715.7" y2="718.9000000000001" stroke="#333" stroke-width="1"/>
<text x="1125.7" y="736.8" font-size="14.6" text-anchor="middle" fill="#222">8</text>
<line x1="1136.9" x2="1136.9" y1="715.7" y2="718.9000000000001" stroke="#333" stroke-width="1"/>
<text x="1136.9" y="736.8" font-size="14.6" text-anchor="middle" fill="#222">9</text>
<line x1="1148.1" x2="1148.1" y1="715.7" y2="718.9000000000001" stroke="#333" stroke-width="1"/>
<text x="1148.1" y="736.8" font-size="14.6" text-anchor="middle" fill="#222">10</text>
<line x1="1159.3" x2="1159.3" y1="715.7" y2="718.9000000000001" stroke="#333" stroke-width="1"/>
<text x="1159.3" y="736.8" font-size="14.6" text-anchor="middle" fill="#222">11</text>
<line x1="1170.4" x2="1170.4" y1="715.7" y2="718.9000000000001" stroke="#333" stroke-width="1"/>
<text x="1170.4" y="736.8" font-size="14.6" text-anchor="middle" fill="#222">12</text>
<line x1="1181.6" x2="1181.6" y1="715.7" y2="718.9000000000001" stroke="#333" stroke-width="1"/>
<text x="1181.6" y="736.8" font-size="14.6" text-anchor="middle" fill="#222">13</text>
<line x1="1192.8" x2="1192.8" y1="715.7" y2="718.9000000000001" stroke="#333" stroke-width="1"/>
<text x="1192.8" y="736.8" font-size="14.6" text-anchor="middle" fill="#222">14</text>
<line x1="1204.0" x2="1204.0" y1="715.7" y2="718.9000000000001" stroke="#333" stroke-width="1"/>
<text x="1204.0" y="736.8" font-size="14.6" text-anchor="middle" fill="#222">15</text>
<line x1="1215.2" x2="1215.2" y1="715.7" y2="718.9000000000001" stroke="#333" stroke-width="1"/>
<text x="1215.2" y="736.8" font-size="14.6" text-anchor="middle" fill="#222">16</text>
<line x1="1226.4" x2="1226.4" y1="715.7" y2="718.9000000000001" stroke="#333" stroke-width="1"/>
<text x="1226.4" y="736.8" font-size="14.6" text-anchor="middle" fill="#222">17</text>
<line x1="1237.5" x2="1237.5" y1="715.7" y2="718.9000000000001" stroke="#333" stroke-width="1"/>
<text x="1237.5" y="736.8" font-size="14.6" text-anchor="middle" fill="#222">18</text>
<line x1="1248.7" x2="1248.7" y1="715.7" y2="718.9000000000001" stroke="#333" stroke-width="1"/>
<text x="1248.7" y="736.8" font-size="14.6" text-anchor="middle" fill="#222">19</text>
<line x1="1259.9" x2="1259.9" y1="715.7" y2="718.9000000000001" stroke="#333" stroke-width="1"/>
<text x="1259.9" y="736.8" font-size="14.6" text-anchor="middle" fill="#222">20</text>
<line x1="1271.1" x2="1271.1" y1="715.7" y2="718.9000000000001" stroke="#333" stroke-width="1"/>
<text x="1271.1" y="736.8" font-size="14.6" text-anchor="middle" fill="#222">21</text>
<line x1="1282.3" x2="1282.3" y1="715.7" y2="718.9000000000001" stroke="#333" stroke-width="1"/>
<text x="1282.3" y="736.8" font-size="14.6" text-anchor="middle" fill="#222">22</text>
<line x1="1293.5" x2="1293.5" y1="715.7" y2="718.9000000000001" stroke="#333" stroke-width="1"/>
<text x="1293.5" y="736.8" font-size="14.6" text-anchor="middle" fill="#222">23</text>
<line x1="1304.7" x2="1304.7" y1="715.7" y2="718.9000000000001" stroke="#333" stroke-width="1"/>
<text x="1304.7" y="736.8" font-size="14.6" text-anchor="middle" fill="#222">24</text>
<line x1="1315.8" x2="1315.8" y1="715.7" y2="718.9000000000001" stroke="#333" stroke-width="1"/>
<text x="1315.8" y="736.8" font-size="14.6" text-anchor="middle" fill="#222">25</text>
<line x1="1327.0" x2="1327.0" y1="715.7" y2="718.9000000000001" stroke="#333" stroke-width="1"/>
<text x="1327.0" y="736.8" font-size="14.6" text-anchor="middle" fill="#222">26</text>
<line x1="1338.2" x2="1338.2" y1="715.7" y2="718.9000000000001" stroke="#333" stroke-width="1"/>
<text x="1338.2" y="736.8" font-size="14.6" text-anchor="middle" fill="#222">27</text>
<line x1="1349.4" x2="1349.4" y1="715.7" y2="718.9000000000001" stroke="#333" stroke-width="1"/>
<text x="1349.4" y="736.8" font-size="14.6" text-anchor="middle" fill="#222">28</text>
</g>
<g>
<rect x="1366.1" y="40.0" width="314.3" height="675.7" fill="#ffffff"/>
<line x1="1365.1" x2="1680.5" y1="566.0" y2="566.0" stroke="#dadada" stroke-width="0.6"/>
<line x1="1365.1" x2="1680.5" y1="329.4" y2="329.4" stroke="#dadada" stroke-width="0.6"/>
<line x1="1365.1" x2="1680.5" y1="92.8" y2="92.8" stroke="#dadada" stroke-width="0.6"/>
<line x1="1365.1" x2="1680.5" y1="684.3" y2="684.3" stroke="#dadada" stroke-width="0.8"/>
<line x1="1365.1" x2="1680.5" y1="447.7" y2="447.7" stroke="#dadada" stroke-width="0.8"/>
<line x1="1365.1" x2="1680.5" y1="211.1" y2="211.1" stroke="#dadada" stroke-width="0.8"/>
<line x1="1371.8" x2="1371.8" y1="40.0" y2="715.7" stroke="#d2d2d2" stroke-width="0.75"/>
<line x1="1383.0" x2="1383.0" y1="40.0" y2="715.7" stroke="#d2d2d2" stroke-width="0.75"/>
<line x1="1394.2" x2="1394.2" y1="40.0" y2="715.7" stroke="#d2d2d2" stroke-width="0.75"/>
<line x1="1405.4" x2="1405.4" y1="40.0" y2="715.7" stroke="#d2d2d2" stroke-width="0.75"/>
<line x1="1416.5" x2="1416.5" y1="40.0" y2="715.7" stroke="#d2d2d2" stroke-width="0.75"/>
<line x1="1427.7" x2="1427.7" y1="40.0" y2="715.7" stroke="#d2d2d2" stroke-width="0.75"/>
<line x1="1438.9" x2="1438.9" y1="40.0" y2="715.7" stroke="#d2d2d2" stroke-width="0.75"/>
<line x1="1450.1" x2="1450.1" y1="40.0" y2="715.7" stroke="#d2d2d2" stroke-width="0.75"/>
<line x1="1461.3" x2="1461.3" y1="40.0" y2="715.7" stroke="#d2d2d2" stroke-width="0.75"/>
<line x1="1472.5" x2="1472.5" y1="40.0" y2="715.7" stroke="#d2d2d2" stroke-width="0.75"/>
<line x1="1483.7" x2="1483.7" y1="40.0" y2="715.7" stroke="#d2d2d2" stroke-width="0.75"/>
<line x1="1494.8" x2="1494.8" y1="40.0" y2="715.7" stroke="#d2d2d2" stroke-width="0.75"/>
<line x1="1506.0" x2="1506.0" y1="40.0" y2="715.7" stroke="#d2d2d2" stroke-width="0.75"/>
<line x1="1517.2" x2="1517.2" y1="40.0" y2="715.7" stroke="#d2d2d2" stroke-width="0.75"/>
<line x1="1528.4" x2="1528.4" y1="40.0" y2="715.7" stroke="#d2d2d2" stroke-width="0.75"/>
<line x1="1539.6" x2="1539.6" y1="40.0" y2="715.7" stroke="#d2d2d2" stroke-width="0.75"/>
<line x1="1550.8" x2="1550.8" y1="40.0" y2="715.7" stroke="#d2d2d2" stroke-width="0.75"/>
<line x1="1561.9" x2="1561.9" y1="40.0" y2="715.7" stroke="#d2d2d2" stroke-width="0.75"/>
<line x1="1573.1" x2="1573.1" y1="40.0" y2="715.7" stroke="#d2d2d2" stroke-width="0.75"/>
<line x1="1584.3" x2="1584.3" y1="40.0" y2="715.7" stroke="#d2d2d2" stroke-width="0.75"/>
<line x1="1595.5" x2="1595.5" y1="40.0" y2="715.7" stroke="#d2d2d2" stroke-width="0.75"/>
<line x1="1606.7" x2="1606.7" y1="40.0" y2="715.7" stroke="#d2d2d2" stroke-width="0.75"/>
<line x1="1617.9" x2="1617.9" y1="40.0" y2="715.7" stroke="#d2d2d2" stroke-width="0.75"/>
<line x1="1629.1" x2="1629.1" y1="40.0" y2="715.7" stroke="#d2d2d2" stroke-width="0.75"/>
<line x1="1640.2" x2="1640.2" y1="40.0" y2="715.7" stroke="#d2d2d2" stroke-width="0.75"/>
<line x1="1651.4" x2="1651.4" y1="40.0" y2="715.7" stroke="#d2d2d2" stroke-width="0.75"/>
<line x1="1662.6" x2="1662.6" y1="40.0" y2="715.7" stroke="#d2d2d2" stroke-width="0.75"/>
<line x1="1673.8" x2="1673.8" y1="40.0" y2="715.7" stroke="#d2d2d2" stroke-width="0.75"/>
<rect x="1366.78" y="657.10" width="10.07" height="27.00" fill="#00BFC4"/>
<rect x="1366.78" y="523.60" width="10.07" height="133.80" fill="#7CAE00"/>
<rect x="1366.78" y="470.20" width="10.07" height="53.70" fill="#CD9600"/>
<rect x="1366.78" y="443.50" width="10.07" height="27.00" fill="#F8766D"/>
<rect x="1377.96" y="657.10" width="10.07" height="27.00" fill="#00BFC4"/>
<rect x="1377.96" y="630.40" width="10.07" height="27.00" fill="#00BE67"/>
<rect x="1377.96" y="577.00" width="10.07" height="53.70" fill="#7CAE00"/>
<rect x="1377.96" y="470.20" width="10.07" height="107.10" fill="#CD9600"/>
<rect x="1377.96" y="443.50" width="10.07" height="27.00" fill="#F8766D"/>
<rect x="1389.15" y="657.10" width="10.07" height="27.00" fill="#00BFC4"/>
<rect x="1389.15" y="630.40" width="10.07" height="27.00" fill="#00BE67"/>
<rect x="1389.15" y="577.00" width="10.07" height="53.70" fill="#7CAE00"/>
<rect x="1389.15" y="550.30" width="10.07" height="27.00" fill="#CD9600"/>
<rect x="1400.33" y="657.10" width="10.07" height="27.00" fill="#FF61CC"/>
<rect x="1400.33" y="630.40" width="10.07" height="27.00" fill="#7CAE00"/>
<rect x="1400.33" y="603.70" width="10.07" height="27.00" fill="#CD9600"/>
<rect x="1400.33" y="577.00" width="10.07" height="27.00" fill="#F8766D"/>
<rect x="1411.52" y="657.10" width="10.07" height="27.00" fill="#FF61CC"/>
<rect x="1411.52" y="603.70" width="10.07" height="53.70" fill="#00BFC4"/>
<rect x="1411.52" y="577.00" width="10.07" height="27.00" fill="#00BE67"/>
<rect x="1411.52" y="523.60" width="10.07" height="53.70" fill="#7CAE00"/>
<rect x="1411.52" y="390.10" width="10.07" height="133.80" fill="#CD9600"/>
<rect x="1411.52" y="363.40" width="10.07" height="27.00" fill="#F8766D"/>
<rect x="1422.70" y="657.10" width="10.07" height="27.00" fill="#FF61CC"/>
<rect x="1422.70" y="603.70" width="10.07" height="53.70" fill="#00BFC4"/>
<rect x="1422.70" y="550.30" width="10.07" height="53.70" fill="#00BE67"/>
<rect x="1422.70" y="496.90" width="10.07" height="53.70" fill="#7CAE00"/>
<rect x="1422.70" y="390.10" width="10.07" height="107.10" fill="#CD9600"/>
<rect x="1422.70" y="363.40" width="10.07" height="27.00" fill="#F8766D"/>
<rect x="1433.88" y="657.10" width="10.07" height="27.00" fill="#00BFC4"/>
<rect x="1433.88" y="577.00" width="10.07" height="80.40" fill="#7CAE00"/>
<rect x="1433.88" y="496.90" width="10.07" height="80.40" fill="#CD9600"/>
<rect x="1445.07" y="657.10" width="10.07" height="27.00" fill="#FF61CC"/>
<rect x="1445.07" y="630.40" width="10.07" height="27.00" fill="#00BFC4"/>
<rect x="1445.07" y="603.70" width="10.07" height="27.00" fill="#7CAE00"/>
<rect x="1445.07" y="577.00" width="10.07" height="27.00" fill="#CD9600"/>
<rect x="1445.07" y="550.30" width="10.07" height="27.00" fill="#F8766D"/>
<rect x="1456.25" y="657.10" width="10.07" height="27.00" fill="#FF61CC"/>
<rect x="1456.25" y="603.70" width="10.07" height="53.70" fill="#00BFC4"/>
<rect x="1456.25" y="577.00" width="10.07" height="27.00" fill="#7CAE00"/>
<rect x="1456.25" y="523.60" width="10.07" height="53.70" fill="#CD9600"/>
<rect x="1456.25" y="496.90" width="10.07" height="27.00" fill="#F8766D"/>
<rect x="1478.62" y="630.40" width="10.07" height="53.70" fill="#7CAE00"/>
<rect x="1478.62" y="550.30" width="10.07" height="80.40" fill="#F8766D"/>
<rect x="1489.81" y="657.10" width="10.07" height="27.00" fill="#00BFC4"/>
<rect x="1489.81" y="603.70" width="10.07" height="53.70" fill="#7CAE00"/>
<rect x="1489.81" y="577.00" width="10.07" height="27.00" fill="#CD9600"/>
<rect x="1500.99" y="630.40" width="10.07" height="53.70" fill="#FF61CC"/>
<rect x="1500.99" y="603.70" width="10.07" height="27.00" fill="#7CAE00"/>
<rect x="1500.99" y="550.30" width="10.07" height="53.70" fill="#CD9600"/>
<rect x="1512.17" y="657.10" width="10.07" height="27.00" fill="#FF61CC"/>
<rect x="1512.17" y="630.40" width="10.07" height="27.00" fill="#00BFC4"/>
<rect x="1512.17" y="603.70" width="10.07" height="27.00" fill="#7CAE00"/>
<rect x="1512.17" y="550.30" width="10.07" height="53.70" fill="#CD9600"/>
<rect x="1512.17" y="523.60" width="10.07" height="27.00" fill="#F8766D"/>
<rect x="1523.36" y="603.70" width="10.07" height="80.40" fill="#FF61CC"/>
<rect x="1523.36" y="577.00" width="10.07" height="27.00" fill="#00BFC4"/>
<rect x="1523.36" y="496.90" width="10.07" height="80.40" fill="#7CAE00"/>
<rect x="1523.36" y="470.20" width="10.07" height="27.00" fill="#F8766D"/>
<rect x="1545.73" y="577.00" width="10.07" height="107.10" fill="#FF61CC"/>
<rect x="1545.73" y="550.30" width="10.07" height="27.00" fill="#00BFC4"/>
<rect x="1545.73" y="523.60" width="10.07" height="27.00" fill="#7CAE00"/>
<rect x="1545.73" y="470.20" width="10.07" height="53.70" fill="#CD9600"/>
<rect x="1545.73" y="390.10" width="10.07" height="80.40" fill="#F8766D"/>
<rect x="1556.91" y="657.10" width="10.07" height="27.00" fill="#FF61CC"/>
<rect x="1556.91" y="603.70" width="10.07" height="53.70" fill="#00BFC4"/>
<rect x="1556.91" y="577.00" width="10.07" height="27.00" fill="#7CAE00"/>
<rect x="1556.91" y="496.90" width="10.07" height="80.40" fill="#CD9600"/>
<rect x="1556.91" y="470.20" width="10.07" height="27.00" fill="#F8766D"/>
<rect x="1568.10" y="657.10" width="10.07" height="27.00" fill="#FF61CC"/>
<rect x="1568.10" y="630.40" width="10.07" height="27.00" fill="#00BFC4"/>
<rect x="1568.10" y="603.70" width="10.07" height="27.00" fill="#7CAE00"/>
<rect x="1568.10" y="550.30" width="10.07" height="53.70" fill="#F8766D"/>
<rect x="1579.28" y="657.10" width="10.07" height="27.00" fill="#FF61CC"/>
<rect x="1579.28" y="630.40" width="10.07" height="27.00" fill="#00BFC4"/>
<rect x="1579.28" y="550.30" width="10.07" height="80.40" fill="#7CAE00"/>
<rect x="1579.28" y="523.60" width="10.07" height="27.00" fill="#CD9600"/>
<rect x="1579.28" y="470.20" width="10.07" height="53.70" fill="#F8766D"/>
<rect x="1590.47" y="577.00" width="10.07" height="107.10" fill="#00BFC4"/>
<rect x="1590.47" y="496.90" width="10.07" height="80.40" fill="#7CAE00"/>
<rect x="1590.47" y="443.50" width="10.07" height="53.70" fill="#CD9600"/>
<rect x="1590.47" y="416.80" width="10.07" height="27.00" fill="#F8766D"/>
<rect x="1601.65" y="657.10" width="10.07" height="27.00" fill="#FF61CC"/>
<rect x="1601.65" y="630.40" width="10.07" height="27.00" fill="#00BFC4"/>
<rect x="1601.65" y="603.70" width="10.07" height="27.00" fill="#7CAE00"/>
<rect x="1601.65" y="550.30" width="10.07" height="53.70" fill="#CD9600"/>
<rect x="1601.65" y="523.60" width="10.07" height="27.00" fill="#F8766D"/>
<rect x="1612.83" y="657.10" width="10.07" height="27.00" fill="#00BFC4"/>
<rect x="1612.83" y="630.40" width="10.07" height="27.00" fill="#7CAE00"/>
<rect x="1612.83" y="577.00" width="10.07" height="53.70" fill="#CD9600"/>
<rect x="1624.02" y="630.40" width="10.07" height="53.70" fill="#FF61CC"/>
<rect x="1624.02" y="550.30" width="10.07" height="80.40" fill="#00BFC4"/>
<rect x="1624.02" y="523.60" width="10.07" height="27.00" fill="#00BE67"/>
<rect x="1624.02" y="470.20" width="10.07" height="53.70" fill="#7CAE00"/>
<rect x="1624.02" y="443.50" width="10.07" height="27.00" fill="#CD9600"/>
<rect x="1624.02" y="416.80" width="10.07" height="27.00" fill="#F8766D"/>
<rect x="1635.20" y="657.10" width="10.07" height="27.00" fill="#FF61CC"/>
<rect x="1635.20" y="630.40" width="10.07" height="27.00" fill="#00BFC4"/>
<rect x="1635.20" y="577.00" width="10.07" height="53.70" fill="#00BE67"/>
<rect x="1635.20" y="550.30" width="10.07" height="27.00" fill="#7CAE00"/>
<rect x="1635.20" y="496.90" width="10.07" height="53.70" fill="#CD9600"/>
<rect x="1635.20" y="470.20" width="10.07" height="27.00" fill="#F8766D"/>
<rect x="1646.39" y="657.10" width="10.07" height="27.00" fill="#00BFC4"/>
<rect x="1646.39" y="603.70" width="10.07" height="53.70" fill="#7CAE00"/>
<rect x="1646.39" y="523.60" width="10.07" height="80.40" fill="#CD9600"/>
<rect x="1657.57" y="577.00" width="10.07" height="107.10" fill="#00BFC4"/>
<rect x="1657.57" y="523.60" width="10.07" height="53.70" fill="#CD9600"/>
<rect x="1657.57" y="496.90" width="10.07" height="27.00" fill="#F8766D"/>
<rect x="1668.76" y="657.10" width="10.07" height="27.00" fill="#00BFC4"/>
<rect x="1668.76" y="630.40" width="10.07" height="27.00" fill="#00BE67"/>
<rect x="1668.76" y="603.70" width="10.07" height="27.00" fill="#7CAE00"/>
<rect x="1668.76" y="550.30" width="10.07" height="53.70" fill="#CD9600"/>
<rect x="1668.76" y="523.60" width="10.07" height="27.00" fill="#F8766D"/>
<rect x="1366.1" y="40.0" width="314.3" height="675.7" fill="none" stroke="#262626" stroke-width="1.4"/>
<rect x="1366.1" y="9.8" width="314.3" height="30.2" fill="#d9d9d9" stroke="#262626" stroke-width="1.4"/>
<text x="1522.8" y="32.4" font-size="15.5" font-weight="bold" text-anchor="middle">2025</text>
<line x1="1371.8" x2="1371.8" y1="715.7" y2="718.9000000000001" stroke="#333" stroke-width="1"/>
<text x="1371.8" y="736.8" font-size="14.6" text-anchor="middle" fill="#222">1</text>
<line x1="1383.0" x2="1383.0" y1="715.7" y2="718.9000000000001" stroke="#333" stroke-width="1"/>
<text x="1383.0" y="736.8" font-size="14.6" text-anchor="middle" fill="#222">2</text>
<line x1="1394.2" x2="1394.2" y1="715.7" y2="718.9000000000001" stroke="#333" stroke-width="1"/>
<text x="1394.2" y="736.8" font-size="14.6" text-anchor="middle" fill="#222">3</text>
<line x1="1405.4" x2="1405.4" y1="715.7" y2="718.9000000000001" stroke="#333" stroke-width="1"/>
<text x="1405.4" y="736.8" font-size="14.6" text-anchor="middle" fill="#222">4</text>
<line x1="1416.5" x2="1416.5" y1="715.7" y2="718.9000000000001" stroke="#333" stroke-width="1"/>
<text x="1416.5" y="736.8" font-size="14.6" text-anchor="middle" fill="#222">5</text>
<line x1="1427.7" x2="1427.7" y1="715.7" y2="718.9000000000001" stroke="#333" stroke-width="1"/>
<text x="1427.7" y="736.8" font-size="14.6" text-anchor="middle" fill="#222">6</text>
<line x1="1438.9" x2="1438.9" y1="715.7" y2="718.9000000000001" stroke="#333" stroke-width="1"/>
<text x="1438.9" y="736.8" font-size="14.6" text-anchor="middle" fill="#222">7</text>
<line x1="1450.1" x2="1450.1" y1="715.7" y2="718.9000000000001" stroke="#333" stroke-width="1"/>
<text x="1450.1" y="736.8" font-size="14.6" text-anchor="middle" fill="#222">8</text>
<line x1="1461.3" x2="1461.3" y1="715.7" y2="718.9000000000001" stroke="#333" stroke-width="1"/>
<text x="1461.3" y="736.8" font-size="14.6" text-anchor="middle" fill="#222">9</text>
<line x1="1472.5" x2="1472.5" y1="715.7" y2="718.9000000000001" stroke="#333" stroke-width="1"/>
<text x="1472.5" y="736.8" font-size="14.6" text-anchor="middle" fill="#222">10</text>
<line x1="1483.7" x2="1483.7" y1="715.7" y2="718.9000000000001" stroke="#333" stroke-width="1"/>
<text x="1483.7" y="736.8" font-size="14.6" text-anchor="middle" fill="#222">11</text>
<line x1="1494.8" x2="1494.8" y1="715.7" y2="718.9000000000001" stroke="#333" stroke-width="1"/>
<text x="1494.8" y="736.8" font-size="14.6" text-anchor="middle" fill="#222">12</text>
<line x1="1506.0" x2="1506.0" y1="715.7" y2="718.9000000000001" stroke="#333" stroke-width="1"/>
<text x="1506.0" y="736.8" font-size="14.6" text-anchor="middle" fill="#222">13</text>
<line x1="1517.2" x2="1517.2" y1="715.7" y2="718.9000000000001" stroke="#333" stroke-width="1"/>
<text x="1517.2" y="736.8" font-size="14.6" text-anchor="middle" fill="#222">14</text>
<line x1="1528.4" x2="1528.4" y1="715.7" y2="718.9000000000001" stroke="#333" stroke-width="1"/>
<text x="1528.4" y="736.8" font-size="14.6" text-anchor="middle" fill="#222">15</text>
<line x1="1539.6" x2="1539.6" y1="715.7" y2="718.9000000000001" stroke="#333" stroke-width="1"/>
<text x="1539.6" y="736.8" font-size="14.6" text-anchor="middle" fill="#222">16</text>
<line x1="1550.8" x2="1550.8" y1="715.7" y2="718.9000000000001" stroke="#333" stroke-width="1"/>
<text x="1550.8" y="736.8" font-size="14.6" text-anchor="middle" fill="#222">17</text>
<line x1="1561.9" x2="1561.9" y1="715.7" y2="718.9000000000001" stroke="#333" stroke-width="1"/>
<text x="1561.9" y="736.8" font-size="14.6" text-anchor="middle" fill="#222">18</text>
<line x1="1573.1" x2="1573.1" y1="715.7" y2="718.9000000000001" stroke="#333" stroke-width="1"/>
<text x="1573.1" y="736.8" font-size="14.6" text-anchor="middle" fill="#222">19</text>
<line x1="1584.3" x2="1584.3" y1="715.7" y2="718.9000000000001" stroke="#333" stroke-width="1"/>
<text x="1584.3" y="736.8" font-size="14.6" text-anchor="middle" fill="#222">20</text>
<line x1="1595.5" x2="1595.5" y1="715.7" y2="718.9000000000001" stroke="#333" stroke-width="1"/>
<text x="1595.5" y="736.8" font-size="14.6" text-anchor="middle" fill="#222">21</text>
<line x1="1606.7" x2="1606.7" y1="715.7" y2="718.9000000000001" stroke="#333" stroke-width="1"/>
<text x="1606.7" y="736.8" font-size="14.6" text-anchor="middle" fill="#222">22</text>
<line x1="1617.9" x2="1617.9" y1="715.7" y2="718.9000000000001" stroke="#333" stroke-width="1"/>
<text x="1617.9" y="736.8" font-size="14.6" text-anchor="middle" fill="#222">23</text>
<line x1="1629.1" x2="1629.1" y1="715.7" y2="718.9000000000001" stroke="#333" stroke-width="1"/>
<text x="1629.1" y="736.8" font-size="14.6" text-anchor="middle" fill="#222">24</text>
<line x1="1640.2" x2="1640.2" y1="715.7" y2="718.9000000000001" stroke="#333" stroke-width="1"/>
<text x="1640.2" y="736.8" font-size="14.6" text-anchor="middle" fill="#222">25</text>
<line x1="1651.4" x2="1651.4" y1="715.7" y2="718.9000000000001" stroke="#333" stroke-width="1"/>
<text x="1651.4" y="736.8" font-size="14.6" text-anchor="middle" fill="#222">26</text>
<line x1="1662.6" x2="1662.6" y1="715.7" y2="718.9000000000001" stroke="#333" stroke-width="1"/>
<text x="1662.6" y="736.8" font-size="14.6" text-anchor="middle" fill="#222">27</text>
<line x1="1673.8" x2="1673.8" y1="715.7" y2="718.9000000000001" stroke="#333" stroke-width="1"/>
<text x="1673.8" y="736.8" font-size="14.6" text-anchor="middle" fill="#222">28</text>
</g>
<line x1="64.0" x2="67.5" y1="684.3" y2="684.3" stroke="#333" stroke-width="1"/>
<text x="58.7" y="691.8" font-size="15.2" text-anchor="end">0</text>
<line x1="64.0" x2="67.5" y1="447.7" y2="447.7" stroke="#333" stroke-width="1"/>
<text x="58.7" y="455.2" font-size="15.2" text-anchor="end">50</text>
<line x1="64.0" x2="67.5" y1="211.1" y2="211.1" stroke="#333" stroke-width="1"/>
<text x="58.7" y="218.6" font-size="15.2" text-anchor="end">100</text>
<text transform="translate(26.2,380) rotate(-90)" font-size="18" letter-spacing="0.45" text-anchor="middle">Mean MaxN</text>
<text x="875.2" y="764.4" font-size="21.5" letter-spacing="0.3" text-anchor="middle">Site</text>
<text x="1709.3" y="258.7" font-size="18" letter-spacing="0.98">Species group</text>
<rect x="1710" y="272.0" width="28" height="27.9" fill="#F8766D"/>
<text x="1747.3" y="288.8" font-size="13.8" letter-spacing="1.0">Benthopelagic</text>
<rect x="1710" y="302.2" width="28" height="27.9" fill="#CD9600"/>
<text x="1747.3" y="319.8" font-size="13.8" letter-spacing="1.0">Crustacea</text>
<rect x="1710" y="332.3" width="28" height="27.9" fill="#7CAE00"/>
<text x="1747.3" y="350.8" font-size="13.8" letter-spacing="1.0">Demersal</text>
<rect x="1710" y="362.5" width="28" height="27.9" fill="#00BE67"/>
<text x="1747.3" y="381.8" font-size="13.8" letter-spacing="1.0">Echinoderm</text>
<rect x="1710" y="392.7" width="28" height="27.9" fill="#00BFC4"/>
<text x="1747.3" y="412.8" font-size="13.8" letter-spacing="1.0">Mollusc</text>
<rect x="1710" y="422.9" width="28" height="27.9" fill="#00A9FF"/>
<text x="1747.3" y="443.8" font-size="13.8" letter-spacing="1.0">Nemertea</text>
<rect x="1710" y="453.0" width="28" height="27.9" fill="#C77CFF"/>
<text x="1747.3" y="474.8" font-size="13.8" letter-spacing="1.0">Pelagic-neritic</text>
<rect x="1710" y="483.2" width="28" height="27.9" fill="#FF61CC"/>
<text x="1747.3" y="505.8" font-size="13.8" letter-spacing="1.0">Reef-associated</text>
</svg></body></html>
